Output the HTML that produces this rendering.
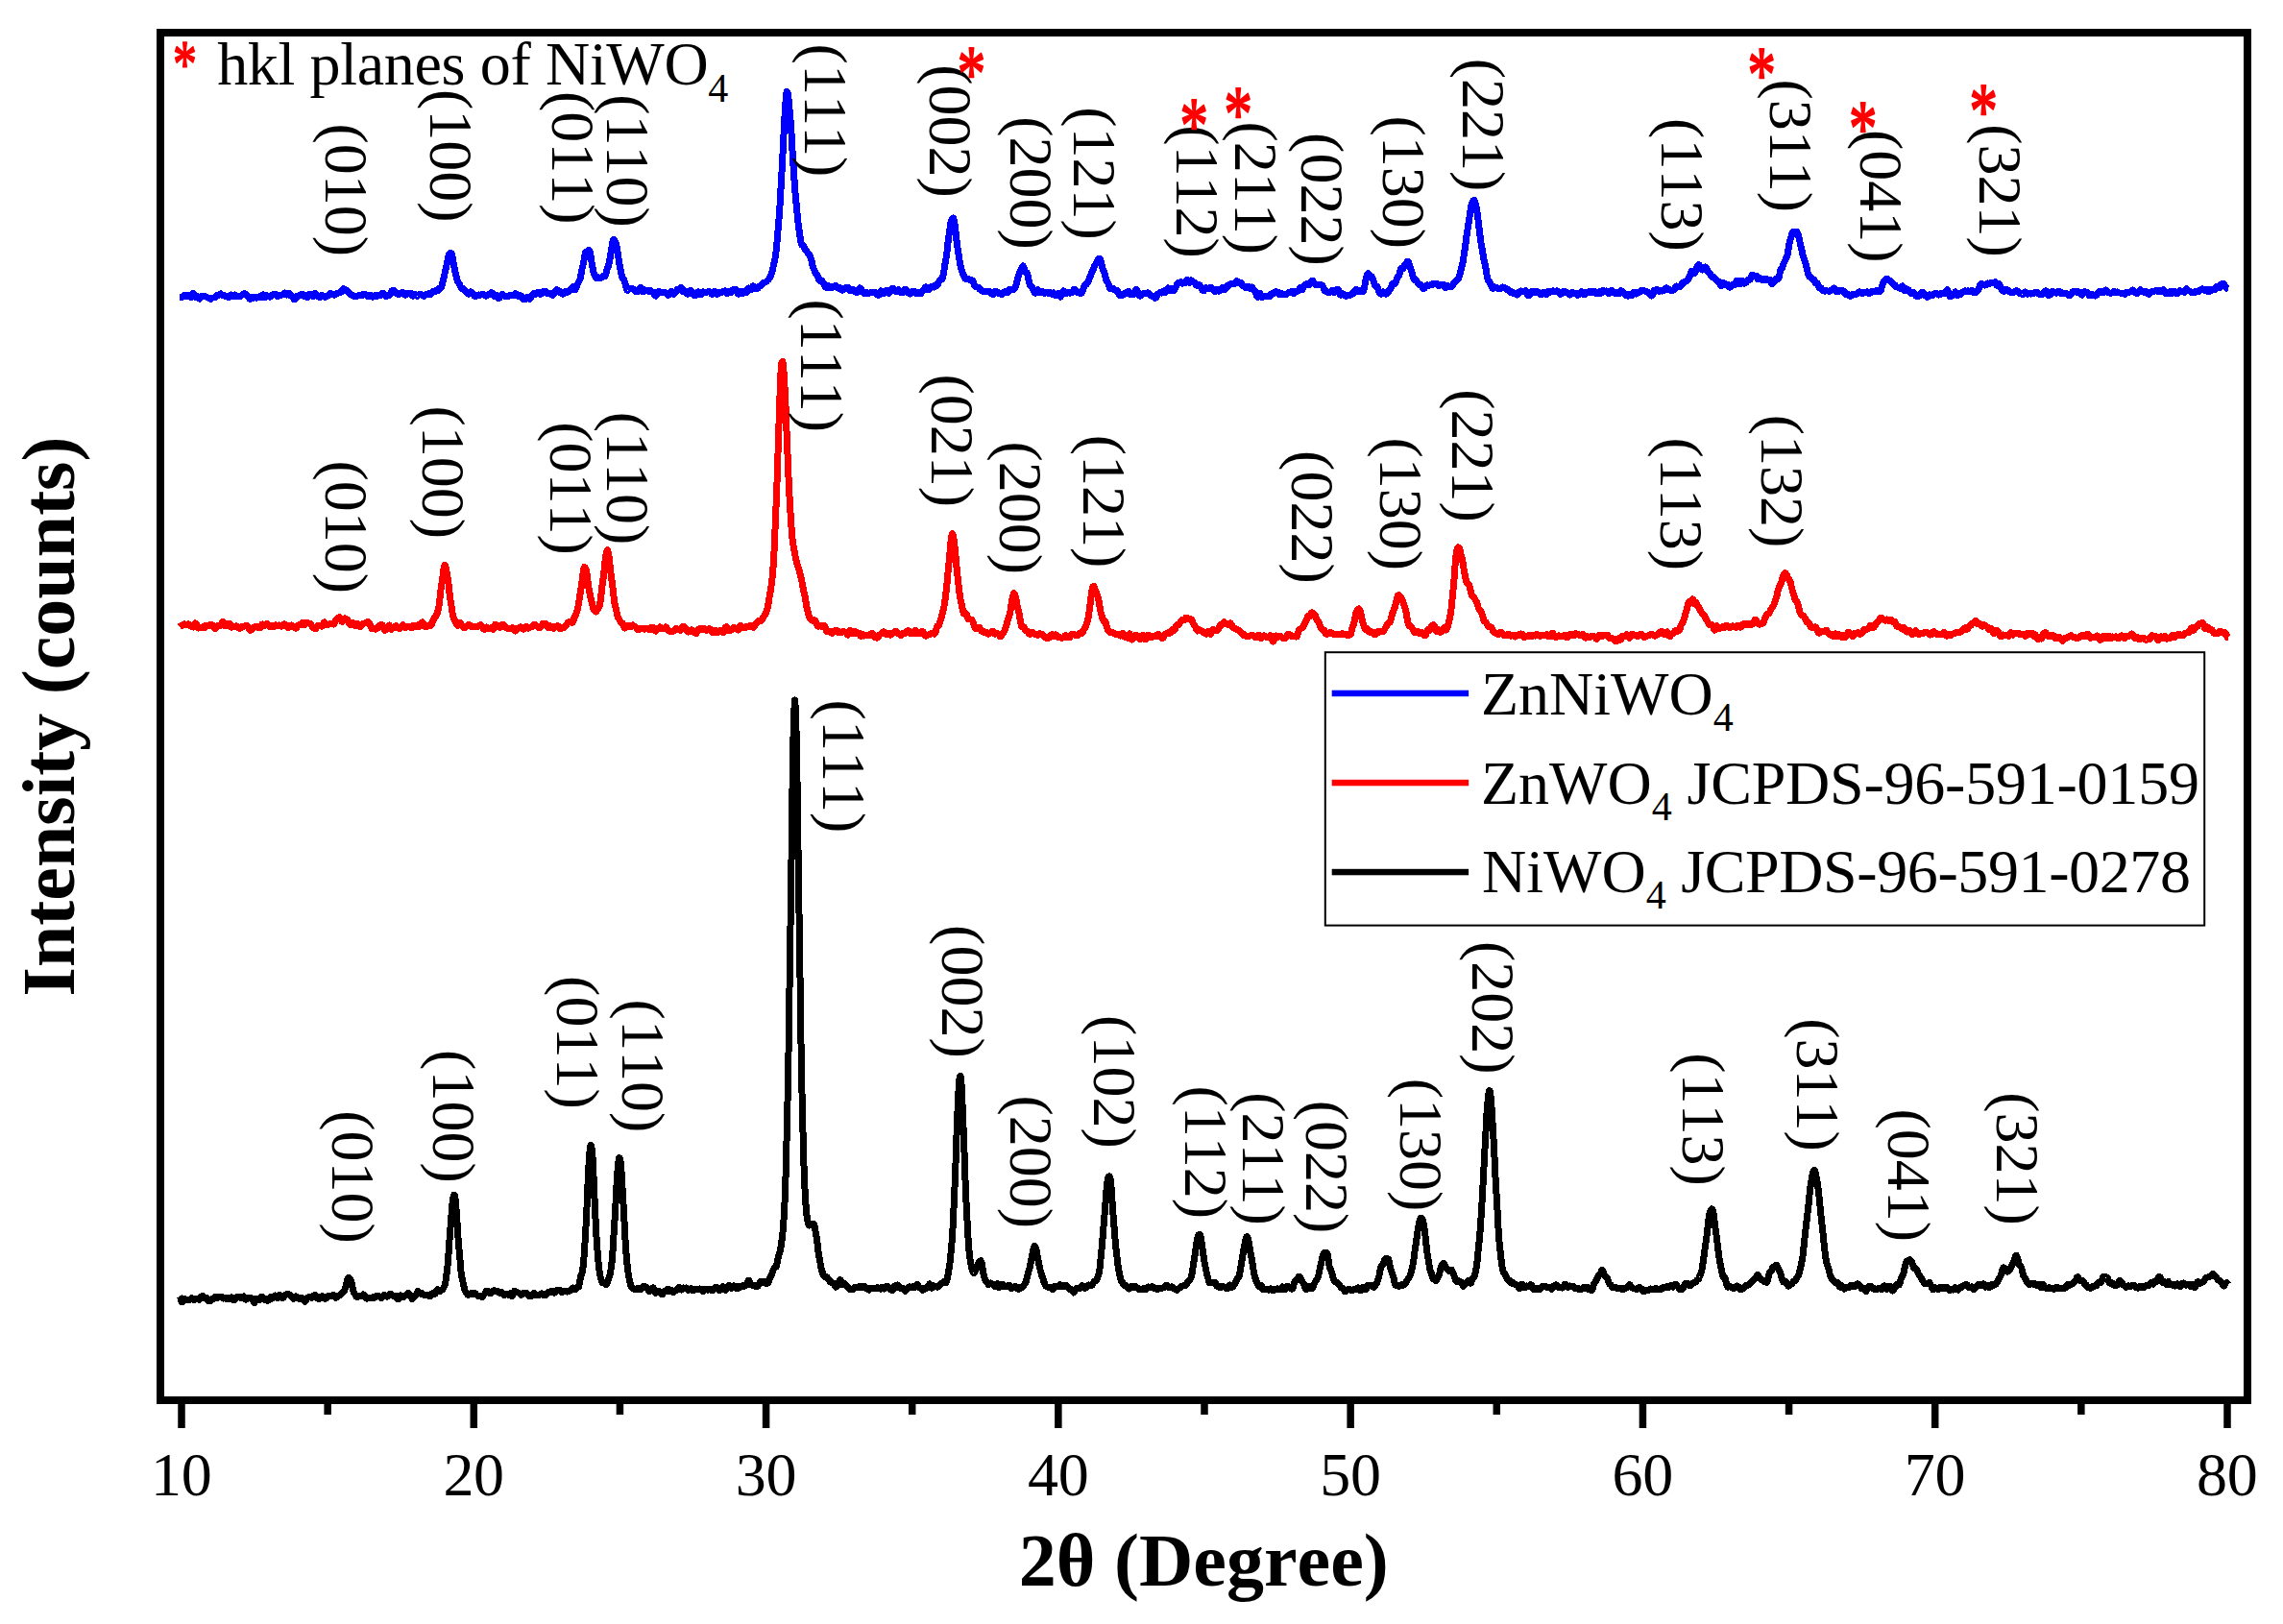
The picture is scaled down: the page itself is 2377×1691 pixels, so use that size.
<!DOCTYPE html>
<html><head><meta charset="utf-8"><title>XRD</title>
<style>
html,body{margin:0;padding:0;background:#fff}
svg{display:block}
svg text{font-family:"Liberation Serif","Times New Roman",serif;font-size:64px;fill:#000;font-kerning:none;font-feature-settings:"kern" 0,"liga" 0}
.b{font-weight:bold;font-size:78px;letter-spacing:0px}
.sub{font-size:42px}
svg text.ast{fill:#ff0000}
</style></head><body>
<svg width="2377" height="1691" viewBox="0 0 2377 1691">
<rect width="2377" height="1691" fill="#fff"/>
<g id="curves" shape-rendering="crispEdges">
<polyline fill="none" stroke="#0000ff" stroke-width="7" stroke-linejoin="round" stroke-linecap="butt" points="187.0,309.3 187.8,309.3 188.5,309.4 189.2,309.3 190.0,309.0 190.8,308.5 191.5,307.9 192.2,307.5 193.0,307.9 193.8,308.2 194.5,308.0 195.2,307.5 196.0,307.2 196.8,307.5 197.5,308.3 198.2,309.4 199.0,309.8 199.8,308.4 200.5,306.3 201.2,305.5 202.0,306.6 202.8,307.9 203.5,308.8 204.2,309.6 205.0,309.4 205.8,308.8 206.5,309.2 207.2,310.5 208.0,311.0 208.8,309.9 209.5,308.6 210.2,308.2 211.0,308.7 211.8,308.9 212.5,308.7 213.2,308.5 214.0,308.8 214.8,309.1 215.5,309.5 216.2,309.9 217.0,310.1 217.8,310.4 218.5,311.1 219.2,311.4 220.0,310.9 220.8,310.2 221.5,310.0 222.2,310.0 223.0,309.7 223.8,309.5 224.5,309.1 225.2,308.3 226.0,307.5 226.8,307.2 227.5,307.4 228.2,307.0 229.0,306.1 229.8,305.9 230.5,306.4 231.2,307.4 232.0,307.8 232.8,307.5 233.5,307.5 234.2,308.2 235.0,308.8 235.8,308.7 236.5,308.5 237.2,309.0 238.0,309.6 238.8,309.1 239.5,307.8 240.2,307.0 241.0,307.3 241.8,308.4 242.5,308.8 243.2,308.0 244.0,307.0 244.8,307.3 245.5,308.5 246.2,309.0 247.0,308.5 247.8,308.3 248.5,308.6 249.2,309.0 250.0,308.7 250.8,308.0 251.5,307.5 252.2,307.1 253.0,306.4 253.8,305.9 254.5,305.8 255.2,306.2 256.0,306.6 256.8,307.2 257.5,308.2 258.2,309.1 259.0,310.0 259.8,310.9 260.5,311.2 261.2,310.3 262.0,309.2 262.8,309.4 263.5,310.2 264.2,310.2 265.0,309.6 265.8,309.4 266.5,309.9 267.2,310.2 268.0,309.9 268.8,309.4 269.5,309.0 270.2,308.9 271.0,309.4 271.8,309.9 272.5,309.1 273.2,307.2 274.0,306.9 274.8,308.7 275.5,309.8 276.2,308.9 277.0,307.9 277.8,307.8 278.5,308.1 279.2,308.3 280.0,308.7 280.8,309.1 281.5,309.1 282.2,308.6 283.0,307.9 283.8,307.1 284.5,306.7 285.2,306.6 286.0,306.3 286.8,306.3 287.5,307.1 288.2,308.2 289.0,308.6 289.8,308.3 290.5,307.8 291.2,307.5 292.0,307.4 292.8,307.4 293.5,307.1 294.2,306.8 295.0,306.4 295.8,305.8 296.5,305.0 297.2,305.2 298.0,306.4 298.8,307.0 299.5,306.4 300.2,305.3 301.0,305.4 301.8,306.6 302.5,307.7 303.2,308.0 304.0,308.1 304.8,309.0 305.5,310.4 306.2,311.5 307.0,311.4 307.8,310.3 308.5,308.9 309.2,308.4 310.0,308.5 310.8,308.4 311.5,307.9 312.2,307.1 313.0,306.7 313.8,306.4 314.5,306.2 315.2,306.5 316.0,307.6 316.8,308.6 317.5,308.3 318.2,307.9 319.0,308.7 319.8,309.6 320.5,309.0 321.2,307.3 322.0,306.2 322.8,306.1 323.5,306.4 324.2,307.0 325.0,308.3 325.8,308.8 326.5,307.7 327.2,306.1 328.0,305.6 328.8,306.6 329.5,307.9 330.2,308.2 331.0,308.0 331.8,308.5 332.5,309.5 333.2,309.6 334.0,308.6 334.8,307.7 335.5,307.5 336.2,307.9 337.0,308.7 337.8,309.2 338.5,309.2 339.2,308.9 340.0,308.6 340.8,308.3 341.5,307.6 342.2,306.9 343.0,306.2 343.8,305.7 344.5,305.5 345.2,305.8 346.0,306.1 346.8,306.4 347.5,306.9 348.2,307.1 349.0,306.9 349.8,306.4 350.5,305.8 351.2,305.5 352.0,305.3 352.8,305.0 353.5,304.5 354.2,304.2 355.0,304.2 355.8,303.4 356.5,301.8 357.2,300.8 358.0,300.9 358.8,301.4 359.5,301.7 360.2,301.9 361.0,302.3 361.8,302.8 362.5,303.8 363.2,304.7 364.0,305.4 364.8,306.3 365.5,307.0 366.2,307.1 367.0,307.1 367.8,307.6 368.5,308.4 369.2,308.6 370.0,308.5 370.8,308.4 371.5,308.3 372.2,308.2 373.0,307.8 373.8,307.3 374.5,307.1 375.2,307.4 376.0,307.7 376.8,307.5 377.5,307.1 378.2,306.5 379.0,306.0 379.8,306.0 380.5,306.5 381.2,307.2 382.0,308.0 382.8,308.8 383.5,308.8 384.2,308.2 385.0,307.5 385.8,307.5 386.5,308.5 387.2,309.1 388.0,309.1 388.8,308.6 389.5,308.0 390.2,307.6 391.0,307.4 391.8,308.0 392.5,308.5 393.2,308.2 394.0,307.6 394.8,307.3 395.5,307.3 396.2,307.3 397.0,306.8 397.8,305.9 398.5,305.1 399.2,305.4 400.0,306.5 400.8,307.6 401.5,308.2 402.2,308.3 403.0,307.8 403.8,307.1 404.5,307.0 405.2,307.4 406.0,307.0 406.8,305.5 407.5,303.6 408.2,302.6 409.0,302.2 409.8,302.1 410.5,302.8 411.2,303.9 412.0,304.8 412.8,305.4 413.5,305.7 414.2,306.2 415.0,306.6 415.8,306.4 416.5,305.6 417.2,305.0 418.0,304.9 418.8,304.9 419.5,304.8 420.2,305.0 421.0,306.1 421.8,307.1 422.5,307.2 423.2,306.4 424.0,305.8 424.8,305.7 425.5,305.5 426.2,305.1 427.0,305.0 427.8,305.5 428.5,306.7 429.2,307.8 430.0,308.3 430.8,307.8 431.5,306.8 432.2,306.6 433.0,307.0 433.8,308.0 434.5,308.5 435.2,307.8 436.0,306.8 436.8,306.4 437.5,306.8 438.2,307.0 439.0,306.8 439.8,307.2 440.5,308.0 441.2,308.3 442.0,307.6 442.8,306.9 443.5,307.0 444.2,307.0 445.0,306.4 445.8,305.9 446.5,306.3 447.2,306.9 448.0,306.7 448.8,305.8 449.5,304.7 450.2,303.9 451.0,303.5 451.8,303.7 452.5,303.8 453.2,303.3 454.0,302.3 454.8,301.9 455.5,302.3 456.2,302.4 457.0,301.3 457.8,300.1 458.5,299.8 459.2,299.7 460.0,297.7 460.8,294.6 461.5,291.8 462.2,288.8 463.0,285.2 463.8,281.6 464.5,278.6 465.2,275.1 466.0,271.0 466.8,267.4 467.5,265.1 468.2,263.9 469.0,263.3 469.8,263.6 470.5,265.2 471.2,268.5 472.0,273.1 472.8,277.6 473.5,281.2 474.2,284.4 475.0,287.7 475.8,290.7 476.5,292.8 477.2,294.1 478.0,295.3 478.8,296.9 479.5,298.6 480.2,300.2 481.0,300.9 481.8,300.9 482.5,300.8 483.2,301.4 484.0,302.7 484.8,303.5 485.5,303.7 486.2,304.2 487.0,305.3 487.8,306.0 488.5,305.2 489.2,304.1 490.0,303.8 490.8,304.4 491.5,305.2 492.2,305.6 493.0,306.7 493.8,308.0 494.5,308.5 495.2,308.4 496.0,308.1 496.8,307.8 497.5,307.4 498.2,307.0 499.0,307.1 499.8,307.1 500.5,307.1 501.2,306.9 502.0,306.5 502.8,306.4 503.5,306.6 504.2,307.3 505.0,307.8 505.8,308.1 506.5,308.0 507.2,307.6 508.0,306.9 508.8,306.8 509.5,306.9 510.2,306.4 511.0,305.3 511.8,304.7 512.5,305.1 513.2,306.5 514.0,308.0 514.8,308.9 515.5,308.6 516.2,307.6 517.0,307.1 517.8,308.1 518.5,309.8 519.2,310.8 520.0,310.3 520.8,308.9 521.5,307.6 522.2,306.9 523.0,306.5 523.8,306.9 524.5,307.8 525.2,308.4 526.0,308.7 526.8,308.8 527.5,308.9 528.2,308.9 529.0,308.6 529.8,308.1 530.5,307.6 531.2,307.2 532.0,307.1 532.8,307.1 533.5,307.2 534.2,307.3 535.0,307.1 535.8,306.4 536.5,305.8 537.2,306.0 538.0,307.0 538.8,308.0 539.5,308.4 540.2,308.4 541.0,308.0 541.8,307.7 542.5,308.1 543.2,309.1 544.0,310.4 544.8,311.5 545.5,311.8 546.2,311.9 547.0,311.8 547.8,311.4 548.5,310.4 549.2,309.2 550.0,309.3 550.8,310.4 551.5,311.2 552.2,310.7 553.0,309.5 553.8,308.2 554.5,306.8 555.2,305.9 556.0,305.5 556.8,305.8 557.5,306.3 558.2,306.1 559.0,305.2 559.8,304.3 560.5,304.7 561.2,305.6 562.0,306.2 562.8,306.3 563.5,306.0 564.2,304.8 565.0,303.9 565.8,304.1 566.5,304.2 567.2,303.7 568.0,303.3 568.8,304.1 569.5,305.3 570.2,305.6 571.0,305.1 571.8,305.1 572.5,305.1 573.2,305.1 574.0,305.7 574.8,306.9 575.5,307.3 576.2,306.7 577.0,305.8 577.8,304.9 578.5,303.2 579.2,301.7 580.0,301.7 580.8,302.8 581.5,304.0 582.2,304.3 583.0,303.9 583.8,303.8 584.5,304.8 585.2,306.1 586.0,306.2 586.8,305.4 587.5,304.4 588.2,303.6 589.0,303.2 589.8,303.3 590.5,304.0 591.2,304.1 592.0,303.3 592.8,302.6 593.5,302.4 594.2,302.0 595.0,300.9 595.8,299.5 596.5,298.9 597.2,299.5 598.0,300.8 598.8,301.5 599.5,300.6 600.2,298.7 601.0,296.7 601.8,294.9 602.5,293.4 603.2,292.2 604.0,290.2 604.8,286.8 605.5,282.6 606.2,279.0 607.0,276.2 607.8,272.6 608.5,268.0 609.2,264.0 610.0,262.2 610.8,262.0 611.5,261.7 612.2,260.9 613.0,260.4 613.8,261.0 614.5,263.4 615.2,267.9 616.0,273.1 616.8,277.7 617.5,281.3 618.2,284.1 619.0,286.2 619.8,287.9 620.5,289.3 621.2,289.8 622.0,289.3 622.8,288.9 623.5,289.1 624.2,289.3 625.0,289.3 625.8,289.2 626.5,289.1 627.2,288.3 628.0,287.4 628.8,287.4 629.5,287.8 630.2,287.1 631.0,284.5 631.8,281.2 632.5,278.9 633.2,277.5 634.0,274.9 634.8,271.0 635.5,266.6 636.2,262.1 637.0,257.1 637.8,252.2 638.5,249.5 639.2,249.4 640.0,250.5 640.8,251.8 641.5,253.7 642.2,257.6 643.0,262.7 643.8,267.7 644.5,272.3 645.2,276.4 646.0,280.4 646.8,284.4 647.5,287.5 648.2,289.4 649.0,290.3 649.8,291.5 650.5,293.5 651.2,296.2 652.0,299.5 652.8,302.0 653.5,302.5 654.2,301.8 655.0,301.1 655.8,300.7 656.5,300.3 657.2,300.4 658.0,300.8 658.8,300.9 659.5,300.9 660.2,301.7 661.0,302.7 661.8,303.3 662.5,303.6 663.2,303.8 664.0,303.9 664.8,303.2 665.5,301.8 666.2,300.1 667.0,299.3 667.8,300.2 668.5,302.1 669.2,303.6 670.0,303.6 670.8,302.6 671.5,301.9 672.2,302.1 673.0,302.3 673.8,302.2 674.5,302.6 675.2,303.3 676.0,303.7 676.8,303.2 677.5,302.7 678.2,303.2 679.0,303.8 679.8,303.9 680.5,304.6 681.2,306.1 682.0,307.8 682.8,308.1 683.5,306.8 684.2,305.0 685.0,303.9 685.8,303.5 686.5,303.6 687.2,303.8 688.0,304.2 688.8,304.8 689.5,304.8 690.2,304.7 691.0,304.6 691.8,304.6 692.5,304.6 693.2,304.8 694.0,305.7 694.8,306.8 695.5,307.6 696.2,307.2 697.0,306.3 697.8,305.5 698.5,304.3 699.2,303.5 700.0,303.8 700.8,305.3 701.5,306.2 702.2,305.8 703.0,304.9 703.8,303.8 704.5,302.4 705.2,301.2 706.0,301.0 706.8,301.7 707.5,301.8 708.2,300.5 709.0,299.4 709.8,300.1 710.5,302.2 711.2,303.7 712.0,303.3 712.8,302.6 713.5,303.0 714.2,304.2 715.0,305.5 715.8,306.2 716.5,305.9 717.2,304.7 718.0,303.1 718.8,302.4 719.5,302.7 720.2,303.5 721.0,304.8 721.8,306.3 722.5,307.5 723.2,307.9 724.0,307.5 724.8,306.4 725.5,305.2 726.2,304.2 727.0,303.9 727.8,304.7 728.5,306.0 729.2,306.9 730.0,306.7 730.8,305.8 731.5,304.7 732.2,303.9 733.0,304.1 733.8,304.7 734.5,305.0 735.2,304.7 736.0,304.1 736.8,303.8 737.5,303.7 738.2,303.7 739.0,303.7 739.8,304.3 740.5,305.5 741.2,306.4 742.0,306.1 742.8,304.8 743.5,303.5 744.2,303.1 745.0,304.0 745.8,305.6 746.5,306.5 747.2,306.1 748.0,305.2 748.8,304.7 749.5,304.3 750.2,304.2 751.0,304.2 751.8,304.2 752.5,303.9 753.2,303.4 754.0,303.0 754.8,302.8 755.5,303.2 756.2,304.3 757.0,305.4 757.8,304.9 758.5,303.6 759.2,303.4 760.0,304.3 760.8,304.7 761.5,303.5 762.2,302.3 763.0,301.8 763.8,301.6 764.5,301.2 765.2,301.1 766.0,301.2 766.8,302.2 767.5,304.0 768.2,305.6 769.0,306.1 769.8,305.3 770.5,304.1 771.2,303.2 772.0,303.5 772.8,304.6 773.5,305.3 774.2,304.6 775.0,303.4 775.8,302.8 776.5,303.6 777.2,304.6 778.0,304.0 778.8,301.8 779.5,300.0 780.2,300.2 781.0,301.3 781.8,301.7 782.5,300.7 783.2,298.9 784.0,297.9 784.8,298.5 785.5,300.1 786.2,300.8 787.0,300.1 787.8,299.8 788.5,300.2 789.2,300.0 790.0,298.9 790.8,297.8 791.5,297.6 792.2,297.5 793.0,296.9 793.8,295.9 794.5,295.1 795.2,294.4 796.0,294.0 796.8,293.8 797.5,293.6 798.2,292.9 799.0,292.0 799.8,291.3 800.5,290.5 801.2,289.3 802.0,287.8 802.8,286.3 803.5,284.4 804.2,281.5 805.0,278.0 805.8,274.8 806.5,272.0 807.2,268.0 808.0,261.9 808.8,254.3 809.5,246.3 810.2,238.0 811.0,228.3 811.8,217.5 812.5,205.8 813.2,193.1 814.0,179.5 814.8,165.0 815.5,150.6 816.2,136.0 817.0,121.6 817.8,108.7 818.5,99.2 819.2,95.2 820.0,96.5 820.8,101.4 821.5,108.2 822.2,115.9 823.0,124.7 823.8,135.3 824.5,147.5 825.2,160.1 826.0,172.3 826.8,184.2 827.5,194.7 828.2,203.5 829.0,211.4 829.8,219.6 830.5,227.4 831.2,233.9 832.0,239.6 832.8,245.1 833.5,250.1 834.2,253.7 835.0,255.3 835.8,255.5 836.5,255.9 837.2,257.4 838.0,259.2 838.8,260.4 839.5,261.0 840.2,261.9 841.0,263.2 841.8,264.1 842.5,264.8 843.2,266.0 844.0,268.0 844.8,270.7 845.5,273.8 846.2,277.2 847.0,279.6 847.8,281.1 848.5,282.9 849.2,284.9 850.0,286.1 850.8,286.4 851.5,287.5 852.2,289.8 853.0,291.9 853.8,292.4 854.5,291.8 855.2,291.9 856.0,292.7 856.8,293.9 857.5,295.1 858.2,296.4 859.0,298.2 859.8,299.3 860.5,299.3 861.2,298.4 862.0,297.6 862.8,298.1 863.5,298.9 864.2,299.5 865.0,300.0 865.8,299.7 866.5,298.9 867.2,298.2 868.0,298.1 868.8,298.2 869.5,297.8 870.2,297.6 871.0,298.4 871.8,299.5 872.5,300.1 873.2,300.2 874.0,299.7 874.8,299.8 875.5,300.5 876.2,301.6 877.0,302.3 877.8,301.9 878.5,300.9 879.2,300.1 880.0,299.9 880.8,300.1 881.5,300.1 882.2,299.7 883.0,299.6 883.8,300.3 884.5,301.7 885.2,302.6 886.0,302.5 886.8,302.1 887.5,302.0 888.2,301.9 889.0,301.9 889.8,302.5 890.5,303.7 891.2,304.4 892.0,304.6 892.8,304.4 893.5,303.4 894.2,301.3 895.0,299.9 895.8,300.0 896.5,301.2 897.2,302.6 898.0,303.6 898.8,304.7 899.5,305.4 900.2,305.6 901.0,305.5 901.8,305.1 902.5,304.8 903.2,304.8 904.0,305.0 904.8,305.3 905.5,305.1 906.2,304.7 907.0,304.4 907.8,304.5 908.5,304.5 909.2,304.6 910.0,304.8 910.8,304.6 911.5,304.4 912.2,304.9 913.0,306.1 913.8,307.0 914.5,307.2 915.2,307.0 916.0,306.0 916.8,304.3 917.5,302.9 918.2,303.2 919.0,304.4 919.8,305.4 920.5,305.6 921.2,304.8 922.0,303.2 922.8,302.3 923.5,303.2 924.2,304.8 925.0,305.3 925.8,304.3 926.5,303.1 927.2,302.4 928.0,301.7 928.8,300.8 929.5,300.3 930.2,300.9 931.0,302.0 931.8,303.0 932.5,303.6 933.2,304.0 934.0,303.7 934.8,302.4 935.5,301.7 936.2,302.6 937.0,303.8 937.8,304.5 938.5,304.5 939.2,304.7 940.0,304.7 940.8,303.8 941.5,302.4 942.2,301.3 943.0,301.2 943.8,302.3 944.5,303.7 945.2,304.6 946.0,305.0 946.8,305.7 947.5,306.1 948.2,305.6 949.0,304.5 949.8,303.6 950.5,303.1 951.2,303.0 952.0,303.8 952.8,304.9 953.5,305.5 954.2,304.9 955.0,304.5 955.8,304.8 956.5,305.5 957.2,305.8 958.0,305.8 958.8,305.6 959.5,304.7 960.2,303.2 961.0,302.1 961.8,301.5 962.5,300.7 963.2,299.5 964.0,298.8 964.8,299.2 965.5,300.6 966.2,301.7 967.0,301.7 967.8,301.2 968.5,300.5 969.2,299.6 970.0,298.5 970.8,298.1 971.5,298.7 972.2,299.0 973.0,298.2 973.8,297.1 974.5,296.8 975.2,297.3 976.0,296.8 976.8,295.2 977.5,293.5 978.2,292.1 979.0,291.2 979.8,291.1 980.5,291.1 981.2,289.8 982.0,286.6 982.8,282.2 983.5,277.8 984.2,273.7 985.0,269.4 985.8,263.9 986.5,257.2 987.2,250.8 988.0,245.2 988.8,239.7 989.5,234.5 990.2,230.8 991.0,228.8 991.8,227.5 992.5,227.1 993.2,228.7 994.0,233.1 994.8,239.3 995.5,246.0 996.2,252.4 997.0,257.8 997.8,262.9 998.5,267.8 999.2,272.5 1000.0,276.3 1000.8,279.4 1001.5,282.3 1002.2,284.5 1003.0,286.1 1003.8,287.5 1004.5,289.2 1005.2,290.4 1006.0,290.7 1006.8,290.4 1007.5,290.3 1008.2,290.6 1009.0,291.1 1009.8,291.4 1010.5,291.5 1011.2,291.8 1012.0,291.9 1012.8,292.3 1013.5,293.7 1014.2,296.0 1015.0,298.0 1015.8,298.7 1016.5,298.9 1017.2,298.9 1018.0,299.0 1018.8,299.3 1019.5,300.2 1020.2,301.4 1021.0,302.0 1021.8,302.3 1022.5,302.9 1023.2,303.4 1024.0,303.4 1024.8,303.0 1025.5,303.1 1026.2,303.6 1027.0,304.0 1027.8,303.9 1028.5,303.4 1029.2,303.1 1030.0,303.4 1030.8,304.3 1031.5,305.4 1032.2,306.0 1033.0,306.3 1033.8,306.5 1034.5,305.8 1035.2,304.4 1036.0,303.4 1036.8,303.3 1037.5,303.6 1038.2,304.0 1039.0,304.7 1039.8,305.4 1040.5,305.4 1041.2,305.2 1042.0,305.6 1042.8,306.3 1043.5,306.3 1044.2,305.7 1045.0,304.9 1045.8,303.9 1046.5,303.4 1047.2,303.9 1048.0,304.7 1048.8,305.0 1049.5,304.2 1050.2,303.2 1051.0,301.9 1051.8,301.1 1052.5,301.3 1053.2,301.5 1054.0,301.3 1054.8,301.2 1055.5,301.3 1056.2,300.6 1057.0,299.1 1057.8,297.2 1058.5,294.6 1059.2,291.5 1060.0,288.6 1060.8,286.1 1061.5,283.9 1062.2,282.1 1063.0,280.9 1063.8,279.4 1064.5,277.6 1065.2,277.0 1066.0,278.6 1066.8,281.1 1067.5,282.8 1068.2,283.5 1069.0,283.9 1069.8,285.6 1070.5,288.6 1071.2,292.5 1072.0,295.8 1072.8,297.3 1073.5,297.8 1074.2,298.5 1075.0,299.9 1075.8,301.3 1076.5,302.9 1077.2,304.4 1078.0,305.1 1078.8,304.1 1079.5,302.3 1080.2,301.8 1081.0,303.0 1081.8,304.4 1082.5,304.7 1083.2,304.3 1084.0,303.7 1084.8,303.5 1085.5,303.8 1086.2,304.6 1087.0,305.1 1087.8,305.2 1088.5,305.0 1089.2,304.7 1090.0,304.7 1090.8,305.2 1091.5,305.6 1092.2,305.1 1093.0,304.5 1093.8,305.0 1094.5,306.2 1095.2,306.3 1096.0,305.4 1096.8,304.9 1097.5,305.4 1098.2,306.5 1099.0,307.4 1099.8,307.6 1100.5,306.8 1101.2,305.8 1102.0,305.6 1102.8,306.7 1103.5,308.3 1104.2,309.0 1105.0,307.9 1105.8,305.8 1106.5,303.8 1107.2,302.9 1108.0,303.4 1108.8,304.5 1109.5,305.5 1110.2,305.7 1111.0,305.2 1111.8,304.6 1112.5,304.4 1113.2,304.9 1114.0,305.3 1114.8,304.9 1115.5,304.5 1116.2,304.3 1117.0,303.6 1117.8,302.2 1118.5,301.3 1119.2,301.6 1120.0,302.5 1120.8,303.6 1121.5,304.3 1122.2,304.3 1123.0,304.3 1123.8,304.6 1124.5,305.2 1125.2,305.6 1126.0,305.2 1126.8,304.1 1127.5,302.2 1128.2,299.6 1129.0,297.6 1129.8,296.7 1130.5,296.4 1131.2,295.9 1132.0,294.7 1132.8,293.1 1133.5,291.7 1134.2,290.1 1135.0,288.1 1135.8,285.9 1136.5,284.3 1137.2,283.1 1138.0,281.1 1138.8,278.8 1139.5,277.0 1140.2,275.9 1141.0,274.8 1141.8,273.3 1142.5,271.6 1143.2,270.1 1144.0,269.4 1144.8,269.4 1145.5,270.0 1146.2,271.8 1147.0,275.4 1147.8,279.0 1148.5,281.2 1149.2,282.6 1150.0,284.6 1150.8,287.7 1151.5,291.1 1152.2,293.2 1153.0,293.8 1153.8,294.8 1154.5,297.1 1155.2,299.7 1156.0,300.8 1156.8,300.5 1157.5,300.0 1158.2,300.1 1159.0,300.8 1159.8,301.3 1160.5,301.8 1161.2,302.2 1162.0,302.4 1162.8,302.3 1163.5,302.4 1164.2,303.8 1165.0,305.9 1165.8,307.5 1166.5,307.6 1167.2,306.7 1168.0,306.6 1168.8,307.1 1169.5,307.2 1170.2,306.3 1171.0,305.5 1171.8,305.5 1172.5,305.7 1173.2,305.1 1174.0,303.8 1174.8,303.3 1175.5,304.5 1176.2,306.1 1177.0,306.8 1177.8,306.9 1178.5,307.0 1179.2,307.0 1180.0,306.6 1180.8,305.2 1181.5,303.5 1182.2,302.1 1183.0,301.3 1183.8,301.8 1184.5,303.7 1185.2,306.2 1186.0,307.7 1186.8,308.1 1187.5,307.7 1188.2,307.0 1189.0,306.1 1189.8,305.8 1190.5,305.7 1191.2,305.4 1192.0,305.2 1192.8,305.5 1193.5,305.8 1194.2,305.4 1195.0,304.9 1195.8,305.3 1196.5,306.3 1197.2,307.1 1198.0,307.7 1198.8,308.2 1199.5,308.4 1200.2,308.3 1201.0,308.5 1201.8,309.4 1202.5,310.3 1203.2,310.3 1204.0,308.9 1204.8,307.0 1205.5,306.0 1206.2,305.8 1207.0,305.1 1207.8,304.1 1208.5,304.3 1209.2,305.0 1210.0,304.6 1210.8,303.5 1211.5,303.0 1212.2,303.8 1213.0,304.6 1213.8,304.2 1214.5,302.9 1215.2,300.9 1216.0,300.0 1216.8,300.7 1217.5,301.9 1218.2,302.3 1219.0,301.6 1219.8,300.8 1220.5,301.1 1221.2,302.2 1222.0,302.8 1222.8,302.0 1223.5,300.7 1224.2,299.2 1225.0,297.5 1225.8,295.6 1226.5,294.7 1227.2,294.9 1228.0,294.7 1228.8,293.9 1229.5,293.8 1230.2,294.6 1231.0,295.3 1231.8,294.9 1232.5,294.6 1233.2,294.8 1234.0,294.4 1234.8,293.2 1235.5,291.9 1236.2,291.3 1237.0,292.0 1237.8,293.6 1238.5,294.1 1239.2,293.0 1240.0,291.9 1240.8,292.1 1241.5,292.8 1242.2,293.2 1243.0,293.8 1243.8,294.6 1244.5,295.3 1245.2,296.3 1246.0,297.1 1246.8,297.2 1247.5,296.6 1248.2,296.2 1249.0,296.8 1249.8,298.2 1250.5,299.6 1251.2,300.8 1252.0,302.1 1252.8,302.9 1253.5,302.7 1254.2,301.5 1255.0,300.3 1255.8,299.7 1256.5,299.9 1257.2,300.5 1258.0,300.8 1258.8,300.5 1259.5,299.6 1260.2,299.1 1261.0,299.7 1261.8,300.6 1262.5,301.0 1263.2,301.5 1264.0,302.7 1264.8,303.8 1265.5,303.5 1266.2,302.1 1267.0,301.2 1267.8,301.7 1268.5,302.9 1269.2,303.1 1270.0,301.8 1270.8,300.8 1271.5,300.5 1272.2,299.9 1273.0,299.5 1273.8,300.4 1274.5,301.8 1275.2,301.9 1276.0,300.8 1276.8,299.9 1277.5,298.8 1278.2,297.6 1279.0,296.9 1279.8,296.9 1280.5,296.5 1281.2,295.6 1282.0,295.3 1282.8,295.7 1283.5,296.0 1284.2,295.9 1285.0,295.6 1285.8,295.0 1286.5,293.8 1287.2,292.7 1288.0,292.7 1288.8,293.4 1289.5,294.2 1290.2,294.6 1291.0,294.3 1291.8,294.2 1292.5,295.2 1293.2,296.8 1294.0,297.6 1294.8,297.7 1295.5,297.9 1296.2,298.9 1297.0,299.7 1297.8,299.7 1298.5,299.1 1299.2,298.3 1300.0,298.6 1300.8,299.8 1301.5,300.5 1302.2,300.0 1303.0,299.0 1303.8,299.3 1304.5,300.5 1305.2,301.5 1306.0,302.3 1306.8,303.3 1307.5,304.9 1308.2,307.0 1309.0,308.9 1309.8,309.3 1310.5,307.6 1311.2,305.7 1312.0,305.6 1312.8,307.4 1313.5,309.1 1314.2,309.5 1315.0,308.9 1315.8,308.5 1316.5,308.3 1317.2,308.2 1318.0,308.2 1318.8,308.4 1319.5,308.5 1320.2,308.7 1321.0,308.9 1321.8,308.8 1322.5,307.8 1323.2,306.5 1324.0,305.7 1324.8,305.5 1325.5,305.6 1326.2,305.5 1327.0,304.8 1327.8,303.9 1328.5,303.5 1329.2,303.8 1330.0,304.1 1330.8,304.4 1331.5,305.4 1332.2,306.6 1333.0,306.9 1333.8,306.1 1334.5,305.8 1335.2,306.3 1336.0,306.7 1336.8,306.8 1337.5,306.8 1338.2,306.9 1339.0,306.8 1339.8,306.1 1340.5,305.5 1341.2,304.9 1342.0,304.5 1342.8,304.4 1343.5,304.1 1344.2,303.6 1345.0,303.6 1345.8,304.3 1346.5,305.3 1347.2,305.4 1348.0,304.3 1348.8,303.5 1349.5,303.3 1350.2,303.3 1351.0,303.1 1351.8,302.9 1352.5,302.1 1353.2,300.4 1354.0,299.6 1354.8,300.8 1355.5,301.8 1356.2,300.9 1357.0,298.8 1357.8,297.4 1358.5,297.2 1359.2,296.7 1360.0,295.7 1360.8,295.5 1361.5,296.2 1362.2,296.8 1363.0,296.5 1363.8,295.6 1364.5,294.6 1365.2,293.2 1366.0,292.1 1366.8,292.4 1367.5,293.7 1368.2,294.9 1369.0,295.7 1369.8,296.4 1370.5,296.8 1371.2,296.3 1372.0,296.0 1372.8,296.4 1373.5,296.8 1374.2,296.8 1375.0,296.6 1375.8,297.0 1376.5,297.1 1377.2,297.7 1378.0,299.8 1378.8,302.2 1379.5,303.1 1380.2,302.9 1381.0,303.0 1381.8,303.9 1382.5,304.5 1383.2,304.4 1384.0,304.3 1384.8,304.2 1385.5,303.7 1386.2,302.9 1387.0,302.6 1387.8,303.4 1388.5,304.5 1389.2,304.6 1390.0,304.2 1390.8,303.8 1391.5,302.8 1392.2,301.5 1393.0,301.3 1393.8,302.7 1394.5,304.9 1395.2,306.7 1396.0,307.2 1396.8,306.4 1397.5,305.6 1398.2,305.8 1399.0,306.3 1399.8,306.9 1400.5,307.8 1401.2,308.3 1402.0,307.9 1402.8,307.5 1403.5,307.3 1404.2,307.2 1405.0,307.2 1405.8,307.2 1406.5,306.9 1407.2,306.0 1408.0,305.6 1408.8,305.7 1409.5,305.0 1410.2,303.4 1411.0,302.0 1411.8,301.4 1412.5,301.6 1413.2,302.1 1414.0,303.1 1414.8,303.9 1415.5,303.9 1416.2,303.3 1417.0,302.6 1417.8,303.0 1418.5,303.7 1419.2,303.4 1420.0,301.6 1420.8,298.1 1421.5,294.1 1422.2,290.1 1423.0,287.1 1423.8,285.4 1424.5,284.9 1425.2,285.6 1426.0,286.7 1426.8,287.3 1427.5,287.5 1428.2,287.8 1429.0,289.2 1429.8,291.5 1430.5,294.1 1431.2,296.4 1432.0,297.6 1432.8,297.9 1433.5,298.0 1434.2,299.2 1435.0,301.6 1435.8,303.7 1436.5,304.9 1437.2,305.7 1438.0,306.1 1438.8,305.7 1439.5,304.6 1440.2,303.9 1441.0,304.2 1441.8,305.2 1442.5,306.1 1443.2,306.1 1444.0,305.8 1444.8,305.3 1445.5,304.1 1446.2,302.5 1447.0,301.4 1447.8,300.5 1448.5,298.8 1449.2,296.6 1450.0,295.3 1450.8,295.2 1451.5,295.5 1452.2,295.4 1453.0,294.5 1453.8,292.3 1454.5,289.9 1455.2,288.5 1456.0,287.9 1456.8,286.5 1457.5,283.8 1458.2,280.8 1459.0,279.2 1459.8,279.6 1460.5,279.9 1461.2,278.7 1462.0,276.6 1462.8,275.2 1463.5,274.9 1464.2,274.2 1465.0,272.8 1465.8,272.1 1466.5,272.7 1467.2,275.0 1468.0,277.8 1468.8,279.9 1469.5,281.6 1470.2,283.8 1471.0,287.1 1471.8,290.0 1472.5,291.4 1473.2,291.5 1474.0,291.5 1474.8,292.2 1475.5,293.3 1476.2,294.4 1477.0,295.7 1477.8,296.7 1478.5,296.7 1479.2,296.4 1480.0,297.2 1480.8,298.6 1481.5,300.0 1482.2,300.7 1483.0,300.3 1483.8,299.0 1484.5,297.7 1485.2,297.0 1486.0,296.8 1486.8,297.1 1487.5,297.4 1488.2,297.1 1489.0,296.7 1489.8,296.8 1490.5,296.9 1491.2,296.4 1492.0,295.4 1492.8,295.1 1493.5,295.2 1494.2,295.3 1495.0,295.3 1495.8,295.5 1496.5,296.1 1497.2,297.0 1498.0,297.4 1498.8,297.2 1499.5,296.8 1500.2,296.8 1501.0,296.6 1501.8,296.1 1502.5,296.1 1503.2,297.2 1504.0,299.0 1504.8,299.8 1505.5,299.0 1506.2,297.7 1507.0,297.4 1507.8,298.0 1508.5,298.4 1509.2,298.4 1510.0,298.7 1510.8,298.9 1511.5,298.6 1512.2,297.8 1513.0,296.2 1513.8,294.5 1514.5,293.6 1515.2,293.0 1516.0,292.0 1516.8,291.3 1517.5,291.4 1518.2,290.9 1519.0,288.9 1519.8,286.1 1520.5,283.5 1521.2,280.7 1522.0,277.9 1522.8,274.6 1523.5,270.5 1524.2,265.9 1525.0,260.7 1525.8,255.1 1526.5,249.4 1527.2,244.0 1528.0,238.9 1528.8,234.1 1529.5,229.4 1530.2,224.6 1531.0,219.5 1531.8,214.8 1532.5,211.6 1533.2,209.9 1534.0,208.9 1534.8,208.5 1535.5,209.4 1536.2,212.0 1537.0,215.5 1537.8,219.8 1538.5,225.0 1539.2,230.9 1540.0,237.2 1540.8,243.9 1541.5,249.8 1542.2,254.2 1543.0,258.1 1543.8,262.9 1544.5,267.8 1545.2,271.6 1546.0,274.8 1546.8,278.3 1547.5,282.6 1548.2,287.1 1549.0,291.0 1549.8,292.8 1550.5,293.0 1551.2,293.9 1552.0,296.0 1552.8,298.2 1553.5,299.7 1554.2,300.4 1555.0,300.2 1555.8,299.4 1556.5,299.0 1557.2,299.5 1558.0,300.0 1558.8,300.0 1559.5,299.9 1560.2,300.2 1561.0,300.6 1561.8,300.5 1562.5,300.2 1563.2,299.8 1564.0,299.2 1564.8,299.0 1565.5,299.2 1566.2,299.7 1567.0,300.0 1567.8,300.6 1568.5,301.3 1569.2,301.5 1570.0,301.2 1570.8,301.7 1571.5,303.2 1572.2,304.4 1573.0,304.4 1573.8,303.9 1574.5,304.0 1575.2,305.0 1576.0,305.8 1576.8,305.7 1577.5,305.0 1578.2,305.0 1579.0,306.1 1579.8,307.0 1580.5,306.5 1581.2,305.0 1582.0,303.8 1582.8,303.3 1583.5,302.9 1584.2,303.0 1585.0,303.1 1585.8,303.3 1586.5,303.4 1587.2,303.2 1588.0,302.8 1588.8,302.8 1589.5,304.2 1590.2,306.3 1591.0,307.6 1591.8,307.8 1592.5,307.1 1593.2,306.2 1594.0,304.8 1594.8,303.5 1595.5,303.1 1596.2,303.2 1597.0,303.6 1597.8,304.3 1598.5,304.5 1599.2,304.1 1600.0,303.6 1600.8,303.6 1601.5,304.0 1602.2,304.4 1603.0,305.5 1603.8,306.7 1604.5,306.8 1605.2,305.9 1606.0,305.0 1606.8,304.4 1607.5,304.1 1608.2,304.7 1609.0,306.0 1609.8,306.4 1610.5,305.3 1611.2,303.7 1612.0,303.1 1612.8,303.7 1613.5,304.3 1614.2,304.0 1615.0,303.5 1615.8,303.3 1616.5,303.1 1617.2,302.8 1618.0,303.1 1618.8,303.5 1619.5,303.6 1620.2,303.2 1621.0,302.9 1621.8,303.3 1622.5,303.7 1623.2,304.6 1624.0,305.6 1624.8,306.3 1625.5,306.0 1626.2,305.0 1627.0,303.9 1627.8,303.3 1628.5,303.3 1629.2,303.5 1630.0,303.7 1630.8,304.2 1631.5,305.0 1632.2,305.4 1633.0,305.4 1633.8,306.1 1634.5,307.0 1635.2,306.5 1636.0,305.1 1636.8,304.4 1637.5,304.7 1638.2,305.4 1639.0,305.8 1639.8,305.9 1640.5,305.6 1641.2,305.7 1642.0,306.6 1642.8,307.3 1643.5,306.9 1644.2,305.8 1645.0,304.9 1645.8,304.2 1646.5,303.8 1647.2,304.1 1648.0,305.2 1648.8,306.3 1649.5,306.8 1650.2,306.2 1651.0,304.8 1651.8,304.2 1652.5,304.6 1653.2,305.0 1654.0,304.5 1654.8,303.6 1655.5,303.4 1656.2,303.4 1657.0,303.7 1657.8,304.5 1658.5,304.8 1659.2,304.2 1660.0,303.6 1660.8,304.1 1661.5,305.1 1662.2,305.7 1663.0,305.6 1663.8,304.9 1664.5,304.0 1665.2,303.9 1666.0,304.7 1666.8,305.3 1667.5,304.7 1668.2,303.4 1669.0,302.5 1669.8,302.6 1670.5,303.3 1671.2,303.6 1672.0,303.2 1672.8,303.0 1673.5,303.8 1674.2,305.1 1675.0,305.9 1675.8,305.3 1676.5,303.8 1677.2,302.6 1678.0,302.5 1678.8,303.0 1679.5,303.8 1680.2,304.8 1681.0,305.3 1681.8,305.3 1682.5,305.1 1683.2,304.8 1684.0,304.8 1684.8,305.3 1685.5,305.7 1686.2,305.0 1687.0,303.4 1687.8,302.7 1688.5,303.3 1689.2,303.8 1690.0,304.2 1690.8,304.9 1691.5,306.3 1692.2,307.0 1693.0,306.3 1693.8,306.3 1694.5,307.4 1695.2,308.2 1696.0,307.9 1696.8,306.7 1697.5,306.3 1698.2,306.8 1699.0,307.4 1699.8,306.9 1700.5,305.3 1701.2,304.2 1702.0,304.6 1702.8,305.8 1703.5,306.0 1704.2,305.2 1705.0,304.3 1705.8,304.3 1706.5,304.5 1707.2,304.1 1708.0,303.5 1708.8,302.9 1709.5,302.3 1710.2,302.3 1711.0,302.5 1711.8,302.9 1712.5,303.0 1713.2,303.4 1714.0,303.7 1714.8,303.8 1715.5,304.2 1716.2,305.1 1717.0,306.0 1717.8,306.7 1718.5,307.4 1719.2,308.0 1720.0,308.0 1720.8,306.7 1721.5,304.4 1722.2,302.5 1723.0,302.0 1723.8,302.1 1724.5,301.9 1725.2,301.5 1726.0,302.1 1726.8,303.1 1727.5,303.4 1728.2,303.2 1729.0,302.8 1729.8,302.9 1730.5,303.1 1731.2,303.0 1732.0,302.6 1732.8,301.7 1733.5,300.6 1734.2,300.0 1735.0,299.9 1735.8,300.3 1736.5,300.9 1737.2,301.5 1738.0,301.9 1738.8,301.9 1739.5,302.2 1740.2,302.6 1741.0,302.4 1741.8,301.8 1742.5,301.6 1743.2,301.3 1744.0,300.2 1744.8,298.8 1745.5,297.9 1746.2,298.0 1747.0,298.7 1747.8,299.0 1748.5,298.7 1749.2,298.0 1750.0,297.4 1750.8,296.3 1751.5,295.1 1752.2,294.5 1753.0,294.4 1753.8,293.9 1754.5,293.1 1755.2,292.6 1756.0,292.6 1756.8,292.2 1757.5,291.3 1758.2,289.9 1759.0,288.2 1759.8,286.0 1760.5,283.8 1761.2,282.1 1762.0,282.0 1762.8,283.3 1763.5,284.7 1764.2,284.5 1765.0,282.9 1765.8,281.1 1766.5,279.3 1767.2,277.4 1768.0,275.9 1768.8,275.7 1769.5,276.5 1770.2,277.7 1771.0,279.3 1771.8,280.6 1772.5,281.0 1773.2,280.5 1774.0,279.6 1774.8,278.7 1775.5,278.0 1776.2,278.2 1777.0,279.8 1777.8,281.9 1778.5,283.0 1779.2,283.5 1780.0,284.3 1780.8,285.8 1781.5,287.3 1782.2,288.2 1783.0,288.5 1783.8,288.5 1784.5,288.9 1785.2,289.7 1786.0,290.5 1786.8,291.2 1787.5,292.3 1788.2,293.2 1789.0,293.3 1789.8,293.5 1790.5,294.5 1791.2,296.3 1792.0,297.4 1792.8,297.1 1793.5,295.8 1794.2,294.8 1795.0,294.8 1795.8,295.5 1796.5,296.5 1797.2,297.0 1798.0,297.0 1798.8,296.5 1799.5,296.7 1800.2,298.1 1801.0,299.2 1801.8,299.0 1802.5,298.0 1803.2,296.9 1804.0,296.5 1804.8,296.5 1805.5,296.7 1806.2,296.4 1807.0,295.1 1807.8,293.4 1808.5,292.2 1809.2,292.0 1810.0,292.7 1810.8,294.3 1811.5,295.9 1812.2,295.9 1813.0,294.0 1813.8,292.4 1814.5,292.8 1815.2,294.3 1816.0,295.2 1816.8,294.9 1817.5,294.5 1818.2,294.0 1819.0,292.8 1819.8,291.6 1820.5,291.2 1821.2,291.6 1822.0,291.3 1822.8,289.8 1823.5,287.9 1824.2,286.5 1825.0,286.5 1825.8,287.3 1826.5,287.9 1827.2,287.5 1828.0,287.0 1828.8,287.5 1829.5,289.1 1830.2,290.7 1831.0,290.8 1831.8,290.0 1832.5,289.8 1833.2,290.6 1834.0,291.1 1834.8,290.5 1835.5,290.2 1836.2,291.1 1837.0,291.9 1837.8,291.5 1838.5,290.8 1839.2,290.3 1840.0,290.8 1840.8,291.7 1841.5,292.1 1842.2,291.6 1843.0,291.5 1843.8,293.4 1844.5,295.5 1845.2,295.8 1846.0,295.0 1846.8,294.1 1847.5,293.5 1848.2,292.4 1849.0,290.9 1849.8,290.1 1850.5,290.2 1851.2,290.8 1852.0,289.7 1852.8,286.1 1853.5,282.3 1854.2,280.4 1855.0,279.7 1855.8,278.3 1856.5,276.1 1857.2,274.2 1858.0,272.7 1858.8,271.0 1859.5,269.3 1860.2,267.8 1861.0,265.3 1861.8,261.1 1862.5,256.4 1863.2,252.4 1864.0,249.6 1864.8,247.2 1865.5,244.6 1866.2,242.3 1867.0,241.2 1867.8,241.3 1868.5,241.5 1869.2,241.4 1870.0,241.3 1870.8,241.5 1871.5,242.4 1872.2,244.4 1873.0,247.6 1873.8,251.2 1874.5,254.1 1875.2,257.0 1876.0,260.7 1876.8,264.3 1877.5,267.1 1878.2,269.5 1879.0,271.8 1879.8,274.1 1880.5,276.5 1881.2,279.5 1882.0,283.0 1882.8,286.1 1883.5,287.7 1884.2,288.1 1885.0,288.2 1885.8,289.2 1886.5,290.5 1887.2,291.0 1888.0,291.0 1888.8,291.2 1889.5,292.7 1890.2,294.5 1891.0,295.2 1891.8,294.9 1892.5,295.3 1893.2,297.3 1894.0,299.4 1894.8,300.0 1895.5,299.6 1896.2,300.0 1897.0,301.2 1897.8,302.3 1898.5,302.6 1899.2,302.8 1900.0,303.1 1900.8,303.0 1901.5,302.8 1902.2,302.8 1903.0,303.0 1903.8,303.1 1904.5,303.2 1905.2,303.1 1906.0,302.5 1906.8,301.9 1907.5,301.5 1908.2,301.1 1909.0,300.3 1909.8,300.0 1910.5,300.8 1911.2,302.2 1912.0,303.4 1912.8,303.9 1913.5,303.8 1914.2,303.2 1915.0,302.6 1915.8,302.3 1916.5,302.5 1917.2,302.6 1918.0,302.6 1918.8,302.8 1919.5,303.1 1920.2,304.3 1921.0,305.9 1921.8,306.8 1922.5,306.5 1923.2,305.9 1924.0,306.3 1924.8,307.0 1925.5,307.6 1926.2,308.3 1927.0,308.4 1927.8,307.8 1928.5,306.7 1929.2,306.3 1930.0,306.5 1930.8,306.7 1931.5,306.7 1932.2,306.4 1933.0,306.2 1933.8,305.9 1934.5,305.1 1935.2,304.2 1936.0,303.7 1936.8,304.1 1937.5,304.9 1938.2,305.4 1939.0,305.5 1939.8,305.1 1940.5,304.4 1941.2,304.3 1942.0,304.6 1942.8,304.8 1943.5,304.2 1944.2,303.9 1945.0,304.6 1945.8,305.6 1946.5,305.7 1947.2,304.9 1948.0,303.9 1948.8,303.7 1949.5,304.0 1950.2,304.0 1951.0,303.9 1951.8,303.7 1952.5,303.5 1953.2,302.7 1954.0,302.0 1954.8,302.3 1955.5,303.2 1956.2,303.8 1957.0,303.7 1957.8,303.1 1958.5,301.7 1959.2,299.1 1960.0,296.5 1960.8,294.3 1961.5,292.8 1962.2,291.9 1963.0,291.1 1963.8,290.7 1964.5,290.4 1965.2,290.6 1966.0,291.3 1966.8,291.8 1967.5,292.3 1968.2,293.0 1969.0,293.7 1969.8,294.3 1970.5,295.1 1971.2,295.8 1972.0,296.1 1972.8,296.6 1973.5,297.7 1974.2,298.7 1975.0,299.0 1975.8,299.1 1976.5,299.5 1977.2,299.8 1978.0,300.2 1978.8,300.5 1979.5,299.7 1980.2,298.3 1981.0,297.9 1981.8,299.3 1982.5,301.5 1983.2,302.6 1984.0,302.2 1984.8,301.2 1985.5,300.9 1986.2,301.3 1987.0,301.9 1987.8,302.7 1988.5,304.2 1989.2,305.3 1990.0,305.4 1990.8,305.1 1991.5,304.8 1992.2,304.7 1993.0,305.2 1993.8,306.3 1994.5,307.7 1995.2,308.3 1996.0,308.0 1996.8,307.8 1997.5,308.1 1998.2,308.2 1999.0,307.2 1999.8,305.7 2000.5,304.8 2001.2,304.4 2002.0,304.3 2002.8,305.2 2003.5,306.7 2004.2,307.7 2005.0,308.1 2005.8,308.6 2006.5,309.3 2007.2,309.0 2008.0,307.9 2008.8,307.0 2009.5,306.9 2010.2,307.3 2011.0,307.7 2011.8,307.6 2012.5,307.0 2013.2,306.2 2014.0,305.7 2014.8,305.5 2015.5,305.4 2016.2,305.5 2017.0,305.9 2017.8,306.7 2018.5,307.1 2019.2,306.9 2020.0,306.2 2020.8,305.3 2021.5,305.1 2022.2,305.6 2023.0,305.9 2023.8,305.5 2024.5,305.0 2025.2,304.6 2026.0,303.6 2026.8,302.2 2027.5,301.8 2028.2,303.3 2029.0,305.8 2029.8,307.9 2030.5,308.8 2031.2,308.1 2032.0,307.2 2032.8,307.0 2033.5,307.2 2034.2,306.6 2035.0,305.0 2035.8,304.0 2036.5,304.9 2037.2,306.6 2038.0,307.5 2038.8,306.6 2039.5,305.4 2040.2,305.3 2041.0,306.0 2041.8,306.2 2042.5,305.3 2043.2,304.3 2044.0,303.9 2044.8,304.0 2045.5,303.6 2046.2,302.9 2047.0,303.1 2047.8,303.5 2048.5,303.2 2049.2,302.8 2050.0,303.1 2050.8,303.8 2051.5,303.7 2052.2,302.9 2053.0,302.4 2053.8,302.8 2054.5,303.8 2055.2,304.6 2056.0,304.8 2056.8,304.5 2057.5,303.9 2058.2,303.2 2059.0,302.4 2059.8,301.4 2060.5,299.8 2061.2,298.0 2062.0,296.1 2062.8,295.1 2063.5,295.4 2064.2,296.2 2065.0,296.6 2065.8,296.8 2066.5,297.0 2067.2,297.0 2068.0,296.2 2068.8,295.2 2069.5,294.9 2070.2,295.3 2071.0,295.7 2071.8,295.3 2072.5,294.6 2073.2,294.5 2074.0,294.4 2074.8,294.1 2075.5,294.3 2076.2,294.3 2077.0,293.7 2077.8,293.7 2078.5,295.2 2079.2,297.3 2080.0,297.8 2080.8,296.5 2081.5,295.9 2082.2,297.0 2083.0,299.1 2083.8,300.9 2084.5,301.9 2085.2,302.7 2086.0,303.3 2086.8,303.1 2087.5,302.3 2088.2,301.8 2089.0,301.6 2089.8,301.6 2090.5,302.0 2091.2,302.8 2092.0,303.5 2092.8,303.7 2093.5,303.9 2094.2,304.5 2095.0,304.9 2095.8,305.0 2096.5,304.4 2097.2,303.8 2098.0,303.6 2098.8,303.3 2099.5,302.8 2100.2,302.8 2101.0,303.7 2101.8,304.8 2102.5,305.4 2103.2,305.4 2104.0,305.6 2104.8,306.2 2105.5,306.5 2106.2,306.5 2107.0,305.8 2107.8,304.8 2108.5,304.1 2109.2,304.6 2110.0,305.7 2110.8,306.2 2111.5,306.1 2112.2,305.7 2113.0,305.7 2113.8,306.0 2114.5,306.0 2115.2,305.5 2116.0,305.0 2116.8,305.0 2117.5,305.1 2118.2,305.1 2119.0,304.7 2119.8,304.2 2120.5,304.1 2121.2,304.6 2122.0,305.5 2122.8,306.1 2123.5,306.4 2124.2,306.3 2125.0,306.4 2125.8,306.8 2126.5,306.6 2127.2,305.8 2128.0,304.6 2128.8,303.6 2129.5,302.9 2130.2,302.9 2131.0,303.9 2131.8,305.9 2132.5,307.4 2133.2,307.7 2134.0,307.1 2134.8,306.4 2135.5,305.0 2136.2,303.6 2137.0,303.5 2137.8,304.4 2138.5,304.7 2139.2,304.5 2140.0,304.7 2140.8,305.2 2141.5,304.8 2142.2,303.7 2143.0,303.1 2143.8,303.4 2144.5,304.4 2145.2,305.2 2146.0,305.3 2146.8,305.1 2147.5,304.9 2148.2,305.1 2149.0,305.4 2149.8,305.7 2150.5,305.6 2151.2,305.5 2152.0,305.7 2152.8,306.5 2153.5,307.5 2154.2,308.0 2155.0,307.5 2155.8,306.6 2156.5,305.8 2157.2,304.9 2158.0,303.9 2158.8,303.4 2159.5,303.3 2160.2,303.1 2161.0,303.0 2161.8,303.6 2162.5,304.3 2163.2,304.0 2164.0,303.8 2164.8,304.4 2165.5,305.0 2166.2,305.5 2167.0,306.3 2167.8,307.1 2168.5,306.5 2169.2,304.7 2170.0,303.8 2170.8,303.9 2171.5,304.4 2172.2,304.4 2173.0,304.5 2173.8,305.4 2174.5,306.6 2175.2,307.8 2176.0,307.9 2176.8,307.4 2177.5,306.8 2178.2,306.7 2179.0,307.3 2179.8,307.8 2180.5,307.9 2181.2,308.0 2182.0,308.0 2182.8,307.4 2183.5,306.2 2184.2,304.9 2185.0,304.1 2185.8,303.7 2186.5,303.6 2187.2,303.7 2188.0,303.9 2188.8,304.3 2189.5,304.7 2190.2,304.8 2191.0,304.3 2191.8,303.0 2192.5,302.0 2193.2,302.6 2194.0,303.8 2194.8,304.5 2195.5,304.7 2196.2,304.8 2197.0,305.1 2197.8,305.0 2198.5,305.0 2199.2,304.9 2200.0,304.2 2200.8,303.7 2201.5,303.7 2202.2,304.3 2203.0,304.5 2203.8,304.1 2204.5,304.0 2205.2,304.3 2206.0,304.7 2206.8,305.0 2207.5,305.1 2208.2,305.3 2209.0,305.5 2209.8,305.5 2210.5,305.3 2211.2,305.6 2212.0,306.2 2212.8,306.2 2213.5,305.2 2214.2,304.4 2215.0,304.8 2215.8,305.0 2216.5,304.6 2217.2,304.2 2218.0,303.9 2218.8,303.4 2219.5,302.5 2220.2,302.0 2221.0,302.2 2221.8,303.2 2222.5,304.1 2223.2,304.7 2224.0,305.3 2224.8,305.8 2225.5,305.5 2226.2,304.7 2227.0,303.6 2227.8,302.5 2228.5,301.8 2229.2,302.2 2230.0,303.1 2230.8,303.5 2231.5,303.8 2232.2,304.4 2233.0,304.5 2233.8,304.0 2234.5,303.7 2235.2,304.2 2236.0,305.1 2236.8,305.9 2237.5,306.3 2238.2,305.7 2239.0,304.6 2239.8,304.0 2240.5,303.8 2241.2,303.8 2242.0,303.6 2242.8,303.4 2243.5,303.1 2244.2,302.8 2245.0,302.8 2245.8,302.9 2246.5,303.3 2247.2,303.6 2248.0,303.1 2248.8,302.5 2249.5,302.5 2250.2,303.5 2251.0,303.8 2251.8,302.7 2252.5,301.7 2253.2,302.4 2254.0,304.3 2254.8,305.3 2255.5,304.7 2256.2,304.2 2257.0,304.8 2257.8,305.6 2258.5,305.0 2259.2,303.9 2260.0,303.7 2260.8,304.5 2261.5,305.1 2262.2,304.4 2263.0,303.6 2263.8,303.3 2264.5,303.4 2265.2,304.3 2266.0,305.4 2266.8,305.9 2267.5,305.3 2268.2,304.1 2269.0,303.2 2269.8,302.7 2270.5,302.9 2271.2,303.1 2272.0,303.1 2272.8,303.5 2273.5,304.1 2274.2,304.3 2275.0,302.9 2275.8,301.2 2276.5,300.8 2277.2,301.6 2278.0,302.7 2278.8,303.0 2279.5,303.1 2280.2,303.4 2281.0,303.9 2281.8,304.3 2282.5,304.8 2283.2,305.0 2284.0,304.8 2284.8,304.5 2285.5,304.2 2286.2,303.6 2287.0,303.0 2287.8,303.1 2288.5,303.5 2289.2,303.3 2290.0,302.6 2290.8,302.0 2291.5,301.6 2292.2,301.0 2293.0,300.8 2293.8,301.2 2294.5,302.0 2295.2,302.4 2296.0,301.9 2296.8,301.2 2297.5,301.2 2298.2,302.3 2299.0,303.5 2299.8,303.5 2300.5,302.2 2301.2,301.3 2302.0,301.6 2302.8,302.2 2303.5,301.9 2304.2,301.3 2305.0,301.4 2305.8,301.9 2306.5,301.3 2307.2,299.6 2308.0,298.2 2308.8,298.2 2309.5,299.2 2310.2,299.9 2311.0,299.3 2311.8,297.6 2312.5,296.1 2313.2,295.8 2314.0,296.0 2314.8,295.6 2315.5,295.7 2316.2,296.9 2317.0,298.6 2317.8,299.6 2318.5,300.2 2319.2,300.7 2320.0,300.9"/>
<polyline fill="none" stroke="#ff0000" stroke-width="7" stroke-linejoin="round" stroke-linecap="butt" points="187.0,652.6 187.8,652.0 188.5,651.7 189.2,651.6 190.0,651.3 190.8,650.7 191.5,650.0 192.2,649.8 193.0,650.2 193.8,650.5 194.5,650.4 195.2,650.0 196.0,649.9 196.8,650.5 197.5,651.4 198.2,652.1 199.0,652.2 199.8,651.9 200.5,652.3 201.2,653.0 202.0,652.6 202.8,650.5 203.5,648.9 204.2,649.6 205.0,651.6 205.8,653.3 206.5,654.0 207.2,654.0 208.0,653.7 208.8,653.6 209.5,653.6 210.2,653.3 211.0,652.7 211.8,653.0 212.5,653.9 213.2,653.9 214.0,652.3 214.8,651.0 215.5,651.0 216.2,651.8 217.0,651.8 217.8,650.9 218.5,650.6 219.2,650.8 220.0,650.8 220.8,650.7 221.5,651.1 222.2,652.3 223.0,653.5 223.8,654.4 224.5,654.6 225.2,653.5 226.0,652.0 226.8,651.5 227.5,651.7 228.2,651.6 229.0,651.4 229.8,651.3 230.5,650.6 231.2,648.8 232.0,647.5 232.8,648.0 233.5,649.9 234.2,651.6 235.0,651.6 235.8,650.8 236.5,650.2 237.2,649.9 238.0,649.6 238.8,649.5 239.5,650.6 240.2,652.3 241.0,653.1 241.8,652.6 242.5,652.0 243.2,652.3 244.0,652.6 244.8,652.6 245.5,652.0 246.2,651.8 247.0,652.4 247.8,653.3 248.5,654.0 249.2,654.3 250.0,654.0 250.8,653.5 251.5,652.7 252.2,652.3 253.0,652.4 253.8,652.4 254.5,652.1 255.2,651.8 256.0,651.5 256.8,651.3 257.5,651.8 258.2,653.1 259.0,654.6 259.8,655.8 260.5,656.5 261.2,656.1 262.0,655.1 262.8,654.0 263.5,653.5 264.2,653.3 265.0,652.9 265.8,652.6 266.5,652.3 267.2,652.6 268.0,653.0 268.8,653.3 269.5,653.6 270.2,653.9 271.0,653.4 271.8,651.7 272.5,650.3 273.2,650.0 274.0,650.7 274.8,651.3 275.5,651.2 276.2,650.6 277.0,649.9 277.8,649.5 278.5,649.6 279.2,650.3 280.0,651.6 280.8,652.6 281.5,652.5 282.2,651.7 283.0,651.4 283.8,652.2 284.5,652.9 285.2,652.7 286.0,651.7 286.8,650.9 287.5,650.9 288.2,651.5 289.0,651.7 289.8,651.3 290.5,650.9 291.2,651.1 292.0,651.7 292.8,652.2 293.5,652.0 294.2,651.2 295.0,650.4 295.8,649.9 296.5,650.0 297.2,650.4 298.0,650.9 298.8,651.8 299.5,652.8 300.2,653.6 301.0,653.4 301.8,652.3 302.5,651.4 303.2,651.0 304.0,651.2 304.8,651.8 305.5,652.5 306.2,653.3 307.0,653.9 307.8,654.2 308.5,653.8 309.2,652.5 310.0,651.5 310.8,651.0 311.5,650.8 312.2,650.8 313.0,650.5 313.8,649.7 314.5,648.6 315.2,648.3 316.0,649.6 316.8,650.6 317.5,650.4 318.2,649.1 319.0,648.1 319.8,648.1 320.5,648.6 321.2,648.8 322.0,649.2 322.8,649.5 323.5,649.8 324.2,650.8 325.0,652.3 325.8,653.4 326.5,653.4 327.2,653.5 328.0,654.4 328.8,654.6 329.5,653.7 330.2,652.5 331.0,651.6 331.8,651.3 332.5,651.3 333.2,651.6 334.0,651.9 334.8,652.2 335.5,652.0 336.2,650.6 337.0,648.6 337.8,648.0 338.5,649.5 339.2,650.9 340.0,651.0 340.8,650.3 341.5,650.1 342.2,650.2 343.0,649.9 343.8,649.2 344.5,649.2 345.2,649.6 346.0,649.8 346.8,650.0 347.5,650.0 348.2,649.0 349.0,646.8 349.8,645.5 350.5,645.6 351.2,645.2 352.0,643.8 352.8,642.9 353.5,642.8 354.2,643.4 355.0,644.9 355.8,646.9 356.5,647.6 357.2,646.5 358.0,645.0 358.8,644.0 359.5,643.9 360.2,644.3 361.0,644.7 361.8,645.1 362.5,646.3 363.2,648.2 364.0,650.0 364.8,650.8 365.5,650.5 366.2,649.4 367.0,648.3 367.8,648.5 368.5,650.0 369.2,651.4 370.0,651.8 370.8,651.0 371.5,650.1 372.2,649.4 373.0,649.6 373.8,651.0 374.5,652.4 375.2,652.4 376.0,651.1 376.8,649.9 377.5,649.5 378.2,649.4 379.0,649.2 379.8,649.0 380.5,648.7 381.2,648.5 382.0,648.1 382.8,647.7 383.5,647.8 384.2,648.6 385.0,650.0 385.8,651.7 386.5,653.5 387.2,654.7 388.0,654.9 388.8,654.4 389.5,654.2 390.2,654.8 391.0,655.1 391.8,654.8 392.5,654.4 393.2,654.1 394.0,653.2 394.8,651.8 395.5,651.0 396.2,650.8 397.0,650.5 397.8,650.6 398.5,651.8 399.2,653.7 400.0,655.5 400.8,656.3 401.5,656.1 402.2,655.5 403.0,654.8 403.8,653.5 404.5,651.8 405.2,651.1 406.0,652.3 406.8,654.2 407.5,655.1 408.2,654.4 409.0,653.2 409.8,653.0 410.5,653.6 411.2,653.6 412.0,652.5 412.8,651.8 413.5,652.5 414.2,653.7 415.0,654.2 415.8,654.3 416.5,654.2 417.2,653.9 418.0,652.8 418.8,651.2 419.5,650.4 420.2,651.4 421.0,653.1 421.8,653.6 422.5,652.9 423.2,652.1 424.0,652.1 424.8,652.1 425.5,652.1 426.2,652.8 427.0,653.3 427.8,653.6 428.5,653.7 429.2,653.2 430.0,652.0 430.8,651.1 431.5,651.5 432.2,652.4 433.0,652.4 433.8,651.5 434.5,651.0 435.2,651.2 436.0,651.9 436.8,652.3 437.5,651.7 438.2,649.9 439.0,648.1 439.8,647.9 440.5,649.1 441.2,650.4 442.0,651.2 442.8,652.1 443.5,652.7 444.2,652.3 445.0,651.7 445.8,651.3 446.5,651.0 447.2,651.1 448.0,651.4 448.8,651.4 449.5,650.1 450.2,647.9 451.0,645.9 451.8,644.3 452.5,643.2 453.2,642.2 454.0,641.1 454.8,639.8 455.5,638.0 456.2,635.2 457.0,630.9 457.8,625.0 458.5,618.5 459.2,612.4 460.0,607.3 460.8,602.1 461.5,596.0 462.2,590.8 463.0,588.4 463.8,589.1 464.5,592.0 465.2,595.9 466.0,600.7 466.8,606.3 467.5,612.7 468.2,619.3 469.0,624.9 469.8,629.5 470.5,634.1 471.2,639.1 472.0,643.0 472.8,644.9 473.5,645.8 474.2,647.1 475.0,648.9 475.8,650.6 476.5,651.1 477.2,650.3 478.0,649.1 478.8,648.3 479.5,648.7 480.2,650.2 481.0,651.8 481.8,652.7 482.5,653.2 483.2,653.4 484.0,653.4 484.8,652.9 485.5,652.6 486.2,652.1 487.0,651.0 487.8,650.7 488.5,651.0 489.2,650.9 490.0,651.1 490.8,651.8 491.5,652.8 492.2,652.9 493.0,652.4 493.8,652.0 494.5,652.0 495.2,652.5 496.0,652.7 496.8,652.5 497.5,652.3 498.2,652.2 499.0,651.7 499.8,650.9 500.5,650.7 501.2,651.4 502.0,652.4 502.8,653.6 503.5,654.8 504.2,655.3 505.0,654.8 505.8,653.5 506.5,653.0 507.2,653.4 508.0,653.8 508.8,654.5 509.5,654.7 510.2,654.3 511.0,653.8 511.8,653.9 512.5,655.0 513.2,655.3 514.0,653.9 514.8,651.6 515.5,650.3 516.2,650.4 517.0,650.9 517.8,651.1 518.5,651.2 519.2,652.2 520.0,653.3 520.8,653.4 521.5,652.4 522.2,651.2 523.0,650.5 523.8,650.1 524.5,650.5 525.2,651.8 526.0,652.9 526.8,653.3 527.5,653.6 528.2,654.0 529.0,654.4 529.8,654.3 530.5,654.1 531.2,654.2 532.0,654.5 532.8,654.2 533.5,653.6 534.2,653.8 535.0,655.2 535.8,656.8 536.5,657.0 537.2,656.1 538.0,654.8 538.8,654.3 539.5,654.2 540.2,653.8 541.0,653.2 541.8,652.9 542.5,653.2 543.2,653.9 544.0,654.6 544.8,655.1 545.5,655.0 546.2,654.1 547.0,653.0 547.8,652.3 548.5,652.6 549.2,653.6 550.0,654.1 550.8,653.8 551.5,653.5 552.2,653.2 553.0,652.9 553.8,652.6 554.5,652.3 555.2,651.4 556.0,650.3 556.8,650.3 557.5,651.2 558.2,651.6 559.0,651.8 559.8,652.6 560.5,653.5 561.2,653.9 562.0,653.6 562.8,653.1 563.5,652.2 564.2,651.1 565.0,649.9 565.8,649.1 566.5,649.1 567.2,649.6 568.0,649.6 568.8,649.6 569.5,650.9 570.2,652.8 571.0,653.6 571.8,652.8 572.5,651.8 573.2,652.1 574.0,652.8 574.8,653.4 575.5,653.9 576.2,654.3 577.0,654.1 577.8,652.9 578.5,652.0 579.2,652.0 580.0,651.9 580.8,651.6 581.5,651.9 582.2,653.1 583.0,654.4 583.8,654.9 584.5,654.4 585.2,653.7 586.0,653.5 586.8,653.7 587.5,653.3 588.2,652.2 589.0,651.2 589.8,650.5 590.5,649.6 591.2,648.5 592.0,647.9 592.8,647.7 593.5,647.7 594.2,647.6 595.0,647.9 595.8,648.4 596.5,647.6 597.2,645.4 598.0,642.9 598.8,641.2 599.5,640.0 600.2,638.1 601.0,635.4 601.8,632.2 602.5,628.3 603.2,623.6 604.0,618.4 604.8,613.7 605.5,609.1 606.2,603.6 607.0,597.6 607.8,592.7 608.5,590.4 609.2,590.8 610.0,592.8 610.8,596.2 611.5,601.2 612.2,607.1 613.0,612.6 613.8,616.8 614.5,620.1 615.2,623.4 616.0,626.9 616.8,630.1 617.5,632.7 618.2,634.5 619.0,635.9 619.8,636.8 620.5,637.0 621.2,636.0 622.0,634.4 622.8,633.5 623.5,632.7 624.2,630.6 625.0,626.4 625.8,620.4 626.5,613.9 627.2,608.1 628.0,602.8 628.8,596.6 629.5,589.5 630.2,582.7 631.0,577.2 631.8,573.8 632.5,572.8 633.2,574.7 634.0,579.3 634.8,585.6 635.5,592.3 636.2,598.4 637.0,604.2 637.8,610.1 638.5,616.3 639.2,622.6 640.0,628.2 640.8,632.0 641.5,634.6 642.2,637.8 643.0,641.2 643.8,643.3 644.5,644.5 645.2,645.9 646.0,647.7 646.8,648.6 647.5,648.6 648.2,649.1 649.0,650.4 649.8,652.5 650.5,654.0 651.2,653.8 652.0,652.4 652.8,651.3 653.5,651.4 654.2,651.6 655.0,651.6 655.8,652.2 656.5,652.7 657.2,652.1 658.0,651.1 658.8,650.8 659.5,651.4 660.2,652.0 661.0,652.3 661.8,652.8 662.5,653.5 663.2,654.6 664.0,655.6 664.8,655.7 665.5,654.9 666.2,654.2 667.0,654.5 667.8,654.9 668.5,654.8 669.2,654.5 670.0,654.7 670.8,655.1 671.5,654.9 672.2,654.5 673.0,654.2 673.8,654.4 674.5,654.8 675.2,655.2 676.0,655.3 676.8,654.5 677.5,653.9 678.2,654.5 679.0,655.4 679.8,654.9 680.5,653.9 681.2,654.4 682.0,656.1 682.8,657.1 683.5,656.4 684.2,655.0 685.0,654.3 685.8,654.0 686.5,653.5 687.2,652.9 688.0,653.2 688.8,654.3 689.5,654.8 690.2,654.5 691.0,654.6 691.8,654.5 692.5,653.7 693.2,652.9 694.0,653.5 694.8,655.1 695.5,656.1 696.2,656.5 697.0,657.0 697.8,657.3 698.5,657.4 699.2,657.2 700.0,657.3 700.8,657.4 701.5,657.1 702.2,656.4 703.0,655.4 703.8,654.6 704.5,654.6 705.2,655.1 706.0,655.2 706.8,655.1 707.5,655.8 708.2,656.2 709.0,655.4 709.8,653.9 710.5,652.5 711.2,652.1 712.0,652.4 712.8,653.3 713.5,654.3 714.2,654.9 715.0,656.0 715.8,657.4 716.5,658.1 717.2,657.9 718.0,657.3 718.8,656.7 719.5,656.2 720.2,655.9 721.0,656.0 721.8,656.7 722.5,657.6 723.2,658.4 724.0,659.3 724.8,659.6 725.5,658.6 726.2,656.7 727.0,655.2 727.8,654.8 728.5,654.6 729.2,654.6 730.0,655.0 730.8,655.4 731.5,655.5 732.2,655.0 733.0,654.6 733.8,654.9 734.5,655.7 735.2,656.2 736.0,656.1 736.8,655.5 737.5,655.0 738.2,654.8 739.0,654.9 739.8,655.3 740.5,656.0 741.2,657.5 742.0,658.7 742.8,658.5 743.5,657.1 744.2,656.1 745.0,656.6 745.8,658.1 746.5,658.7 747.2,658.0 748.0,657.2 748.8,656.9 749.5,656.7 750.2,656.5 751.0,656.9 751.8,657.7 752.5,658.4 753.2,658.8 754.0,658.1 754.8,655.8 755.5,653.3 756.2,652.7 757.0,654.2 757.8,656.1 758.5,656.7 759.2,656.2 760.0,655.8 760.8,656.0 761.5,656.0 762.2,655.3 763.0,654.1 763.8,653.4 764.5,653.4 765.2,653.8 766.0,654.4 766.8,654.9 767.5,655.6 768.2,656.0 769.0,655.2 769.8,653.4 770.5,651.7 771.2,651.5 772.0,652.7 772.8,653.4 773.5,653.2 774.2,653.2 775.0,653.9 775.8,653.9 776.5,653.2 777.2,652.5 778.0,652.4 778.8,652.6 779.5,652.5 780.2,652.2 781.0,651.6 781.8,651.2 782.5,651.7 783.2,652.6 784.0,653.3 784.8,653.1 785.5,651.9 786.2,650.2 787.0,649.3 787.8,648.8 788.5,647.9 789.2,647.0 790.0,646.4 790.8,646.3 791.5,646.4 792.2,646.4 793.0,645.9 793.8,644.7 794.5,643.3 795.2,642.0 796.0,640.6 796.8,639.2 797.5,637.9 798.2,636.2 799.0,633.4 799.8,629.6 800.5,625.3 801.2,620.9 802.0,616.6 802.8,611.7 803.5,606.6 804.2,600.1 805.0,590.9 805.8,578.6 806.5,563.7 807.2,546.7 808.0,527.9 808.8,508.1 809.5,487.8 810.2,465.7 811.0,441.5 811.8,417.7 812.5,398.1 813.2,384.5 814.0,377.2 814.8,376.3 815.5,380.7 816.2,389.8 817.0,402.8 817.8,418.1 818.5,435.2 819.2,453.9 820.0,473.2 820.8,491.7 821.5,507.4 822.2,520.9 823.0,533.7 823.8,545.7 824.5,555.7 825.2,562.9 826.0,568.1 826.8,572.3 827.5,576.3 828.2,579.8 829.0,583.1 829.8,586.6 830.5,589.3 831.2,591.2 832.0,593.5 832.8,596.6 833.5,599.8 834.2,602.5 835.0,605.9 835.8,610.3 836.5,614.2 837.2,617.1 838.0,620.4 838.8,624.9 839.5,629.8 840.2,633.5 841.0,636.8 841.8,639.9 842.5,642.5 843.2,644.1 844.0,645.0 844.8,645.9 845.5,646.1 846.2,646.1 847.0,645.9 847.8,645.7 848.5,646.1 849.2,647.2 850.0,649.2 850.8,651.0 851.5,652.0 852.2,652.1 853.0,651.6 853.8,651.2 854.5,651.3 855.2,652.0 856.0,652.6 856.8,652.2 857.5,651.1 858.2,651.1 859.0,652.7 859.8,655.1 860.5,656.9 861.2,657.8 862.0,657.9 862.8,657.5 863.5,657.1 864.2,657.1 865.0,657.9 865.8,659.3 866.5,659.5 867.2,658.3 868.0,657.2 868.8,656.8 869.5,656.9 870.2,656.6 871.0,656.6 871.8,657.5 872.5,658.5 873.2,658.7 874.0,658.2 874.8,658.0 875.5,658.5 876.2,658.6 877.0,658.2 877.8,657.6 878.5,657.6 879.2,658.0 880.0,658.2 880.8,658.3 881.5,659.2 882.2,660.8 883.0,661.1 883.8,659.1 884.5,656.8 885.2,656.3 886.0,657.9 886.8,659.7 887.5,659.9 888.2,658.6 889.0,657.2 889.8,657.2 890.5,658.6 891.2,659.6 892.0,659.7 892.8,659.4 893.5,658.9 894.2,659.0 895.0,660.3 895.8,662.2 896.5,662.6 897.2,661.5 898.0,660.6 898.8,661.0 899.5,662.1 900.2,662.0 901.0,661.3 901.8,661.1 902.5,661.6 903.2,661.8 904.0,661.2 904.8,660.9 905.5,661.1 906.2,661.3 907.0,660.7 907.8,659.7 908.5,659.6 909.2,660.8 910.0,662.7 910.8,663.7 911.5,663.8 912.2,663.9 913.0,664.2 913.8,664.0 914.5,662.9 915.2,661.5 916.0,660.7 916.8,660.3 917.5,660.0 918.2,659.5 919.0,658.6 919.8,657.9 920.5,658.1 921.2,659.3 922.0,660.3 922.8,660.7 923.5,660.4 924.2,659.8 925.0,659.5 925.8,659.9 926.5,660.9 927.2,661.2 928.0,660.2 928.8,659.1 929.5,658.9 930.2,659.0 931.0,658.7 931.8,657.9 932.5,657.2 933.2,657.3 934.0,658.4 934.8,659.7 935.5,660.0 936.2,659.8 937.0,660.6 937.8,661.7 938.5,661.6 939.2,660.5 940.0,659.6 940.8,659.6 941.5,659.9 942.2,659.8 943.0,659.0 943.8,657.9 944.5,657.1 945.2,656.7 946.0,656.8 946.8,657.2 947.5,658.4 948.2,659.5 949.0,659.6 949.8,659.3 950.5,659.5 951.2,659.4 952.0,658.1 952.8,656.4 953.5,656.6 954.2,658.3 955.0,659.3 955.8,658.9 956.5,658.8 957.2,659.6 958.0,659.9 958.8,658.9 959.5,657.5 960.2,657.2 961.0,657.7 961.8,659.0 962.5,660.3 963.2,661.5 964.0,662.1 964.8,661.8 965.5,661.5 966.2,661.2 967.0,660.8 967.8,660.4 968.5,660.2 969.2,660.2 970.0,659.9 970.8,659.1 971.5,659.1 972.2,659.9 973.0,660.1 973.8,658.8 974.5,656.3 975.2,653.7 976.0,651.9 976.8,651.2 977.5,650.8 978.2,649.3 979.0,646.7 979.8,643.9 980.5,641.4 981.2,638.7 982.0,635.6 982.8,632.2 983.5,628.2 984.2,623.0 985.0,616.7 985.8,609.8 986.5,602.0 987.2,593.9 988.0,585.7 988.8,577.7 989.5,570.0 990.2,562.8 991.0,557.6 991.8,555.7 992.5,557.5 993.2,562.4 994.0,569.1 994.8,576.8 995.5,584.8 996.2,592.7 997.0,600.0 997.8,606.7 998.5,613.1 999.2,619.2 1000.0,623.9 1000.8,627.5 1001.5,630.9 1002.2,634.7 1003.0,637.9 1003.8,639.3 1004.5,639.3 1005.2,638.8 1006.0,638.9 1006.8,640.6 1007.5,642.9 1008.2,644.5 1009.0,645.0 1009.8,644.9 1010.5,645.0 1011.2,645.1 1012.0,645.7 1012.8,647.0 1013.5,649.1 1014.2,651.6 1015.0,653.6 1015.8,654.5 1016.5,654.6 1017.2,654.9 1018.0,654.9 1018.8,654.0 1019.5,653.3 1020.2,654.1 1021.0,655.6 1021.8,656.9 1022.5,657.4 1023.2,657.5 1024.0,657.4 1024.8,657.9 1025.5,658.7 1026.2,658.8 1027.0,658.6 1027.8,658.9 1028.5,659.8 1029.2,660.2 1030.0,659.9 1030.8,659.3 1031.5,658.5 1032.2,657.8 1033.0,657.1 1033.8,657.3 1034.5,658.6 1035.2,659.9 1036.0,660.3 1036.8,659.8 1037.5,659.5 1038.2,659.7 1039.0,660.1 1039.8,660.8 1040.5,661.6 1041.2,662.6 1042.0,662.7 1042.8,661.6 1043.5,660.1 1044.2,658.8 1045.0,658.2 1045.8,657.2 1046.5,655.3 1047.2,652.9 1048.0,650.2 1048.8,647.6 1049.5,645.2 1050.2,643.0 1051.0,640.6 1051.8,637.2 1052.5,633.0 1053.2,628.5 1054.0,623.7 1054.8,619.7 1055.5,617.8 1056.2,618.4 1057.0,620.8 1057.8,623.8 1058.5,627.2 1059.2,630.9 1060.0,634.6 1060.8,637.8 1061.5,641.0 1062.2,645.3 1063.0,649.8 1063.8,652.7 1064.5,653.1 1065.2,652.4 1066.0,652.7 1066.8,654.4 1067.5,656.2 1068.2,657.1 1069.0,657.1 1069.8,657.4 1070.5,658.6 1071.2,659.8 1072.0,660.3 1072.8,660.2 1073.5,659.4 1074.2,658.6 1075.0,658.4 1075.8,659.2 1076.5,660.2 1077.2,660.3 1078.0,660.1 1078.8,660.1 1079.5,660.9 1080.2,661.3 1081.0,660.8 1081.8,659.9 1082.5,659.6 1083.2,659.8 1084.0,660.1 1084.8,660.4 1085.5,661.2 1086.2,662.3 1087.0,662.7 1087.8,662.8 1088.5,663.4 1089.2,664.3 1090.0,664.8 1090.8,664.8 1091.5,664.5 1092.2,664.1 1093.0,663.2 1093.8,661.8 1094.5,660.9 1095.2,660.7 1096.0,661.5 1096.8,662.2 1097.5,661.9 1098.2,661.2 1099.0,660.8 1099.8,661.5 1100.5,662.6 1101.2,663.3 1102.0,663.5 1102.8,663.3 1103.5,663.4 1104.2,663.8 1105.0,664.1 1105.8,664.3 1106.5,664.1 1107.2,663.7 1108.0,663.0 1108.8,662.0 1109.5,661.7 1110.2,662.4 1111.0,663.4 1111.8,663.7 1112.5,663.8 1113.2,664.0 1114.0,663.3 1114.8,662.0 1115.5,661.0 1116.2,660.5 1117.0,660.1 1117.8,660.1 1118.5,660.7 1119.2,661.4 1120.0,661.6 1120.8,661.2 1121.5,661.0 1122.2,661.3 1123.0,661.0 1123.8,660.1 1124.5,658.9 1125.2,658.7 1126.0,659.1 1126.8,659.2 1127.5,658.2 1128.2,656.0 1129.0,654.5 1129.8,653.7 1130.5,652.5 1131.2,650.3 1132.0,647.3 1132.8,644.4 1133.5,640.9 1134.2,636.0 1135.0,629.8 1135.8,623.4 1136.5,617.8 1137.2,613.6 1138.0,610.8 1138.8,610.4 1139.5,612.1 1140.2,614.2 1141.0,616.2 1141.8,617.9 1142.5,619.6 1143.2,622.0 1144.0,625.3 1144.8,629.8 1145.5,634.3 1146.2,637.8 1147.0,640.6 1147.8,643.4 1148.5,645.6 1149.2,646.5 1150.0,646.5 1150.8,647.3 1151.5,649.6 1152.2,652.5 1153.0,654.8 1153.8,656.3 1154.5,657.5 1155.2,658.2 1156.0,658.6 1156.8,658.9 1157.5,659.0 1158.2,658.9 1159.0,658.8 1159.8,659.0 1160.5,659.7 1161.2,660.4 1162.0,660.7 1162.8,660.8 1163.5,660.6 1164.2,660.6 1165.0,661.1 1165.8,661.7 1166.5,662.1 1167.2,661.7 1168.0,660.4 1168.8,659.4 1169.5,660.0 1170.2,661.8 1171.0,663.2 1171.8,663.1 1172.5,662.6 1173.2,663.4 1174.0,664.1 1174.8,663.3 1175.5,661.2 1176.2,659.9 1177.0,661.2 1177.8,664.0 1178.5,666.0 1179.2,665.7 1180.0,663.7 1180.8,662.0 1181.5,661.6 1182.2,661.9 1183.0,662.0 1183.8,661.8 1184.5,662.1 1185.2,663.3 1186.0,664.8 1186.8,665.5 1187.5,664.7 1188.2,663.1 1189.0,661.8 1189.8,661.6 1190.5,662.7 1191.2,664.3 1192.0,665.4 1192.8,665.5 1193.5,664.4 1194.2,662.9 1195.0,661.6 1195.8,661.5 1196.5,662.6 1197.2,663.6 1198.0,663.9 1198.8,663.8 1199.5,663.5 1200.2,663.2 1201.0,662.5 1201.8,662.1 1202.5,662.0 1203.2,662.3 1204.0,662.7 1204.8,661.9 1205.5,660.5 1206.2,660.3 1207.0,661.7 1207.8,663.2 1208.5,663.5 1209.2,664.1 1210.0,664.7 1210.8,664.4 1211.5,663.2 1212.2,661.7 1213.0,660.5 1213.8,660.0 1214.5,659.9 1215.2,659.6 1216.0,658.9 1216.8,658.7 1217.5,659.3 1218.2,659.3 1219.0,657.9 1219.8,656.4 1220.5,655.8 1221.2,655.9 1222.0,656.1 1222.8,656.3 1223.5,655.4 1224.2,653.3 1225.0,651.0 1225.8,650.2 1226.5,650.6 1227.2,650.5 1228.0,649.4 1228.8,648.0 1229.5,646.9 1230.2,645.9 1231.0,645.4 1231.8,645.6 1232.5,645.8 1233.2,645.2 1234.0,644.0 1234.8,643.0 1235.5,643.1 1236.2,644.0 1237.0,644.6 1237.8,644.7 1238.5,644.8 1239.2,644.8 1240.0,644.7 1240.8,645.4 1241.5,647.2 1242.2,649.0 1243.0,650.1 1243.8,651.1 1244.5,652.4 1245.2,654.0 1246.0,655.8 1246.8,656.9 1247.5,656.4 1248.2,655.4 1249.0,655.7 1249.8,656.5 1250.5,656.8 1251.2,656.9 1252.0,657.9 1252.8,658.9 1253.5,658.9 1254.2,659.0 1255.0,659.8 1255.8,660.2 1256.5,659.4 1257.2,657.9 1258.0,657.1 1258.8,657.7 1259.5,659.5 1260.2,660.2 1261.0,659.0 1261.8,657.0 1262.5,655.7 1263.2,655.6 1264.0,655.9 1264.8,656.3 1265.5,656.7 1266.2,656.7 1267.0,656.4 1267.8,655.8 1268.5,655.0 1269.2,653.4 1270.0,651.4 1270.8,650.1 1271.5,650.1 1272.2,650.6 1273.0,649.9 1273.8,648.3 1274.5,647.5 1275.2,648.2 1276.0,649.4 1276.8,649.6 1277.5,649.6 1278.2,650.4 1279.0,651.0 1279.8,650.7 1280.5,649.5 1281.2,648.9 1282.0,650.1 1282.8,652.0 1283.5,653.2 1284.2,653.5 1285.0,653.8 1285.8,654.4 1286.5,654.9 1287.2,655.3 1288.0,655.6 1288.8,655.6 1289.5,656.0 1290.2,656.9 1291.0,657.9 1291.8,658.7 1292.5,659.5 1293.2,659.9 1294.0,660.0 1294.8,660.6 1295.5,661.7 1296.2,662.1 1297.0,662.1 1297.8,662.3 1298.5,662.8 1299.2,662.8 1300.0,662.4 1300.8,662.1 1301.5,661.9 1302.2,661.8 1303.0,661.7 1303.8,661.6 1304.5,661.7 1305.2,662.1 1306.0,663.0 1306.8,663.9 1307.5,664.0 1308.2,663.4 1309.0,662.3 1309.8,661.3 1310.5,661.2 1311.2,662.2 1312.0,663.6 1312.8,664.5 1313.5,664.1 1314.2,663.0 1315.0,662.0 1315.8,661.8 1316.5,662.3 1317.2,663.0 1318.0,663.3 1318.8,663.5 1319.5,663.6 1320.2,663.4 1321.0,663.1 1321.8,662.3 1322.5,661.4 1323.2,662.0 1324.0,664.2 1324.8,666.7 1325.5,667.9 1326.2,667.0 1327.0,664.9 1327.8,662.7 1328.5,662.1 1329.2,662.8 1330.0,663.3 1330.8,663.1 1331.5,662.6 1332.2,662.4 1333.0,662.3 1333.8,662.8 1334.5,663.4 1335.2,664.1 1336.0,664.8 1336.8,665.0 1337.5,664.9 1338.2,664.3 1339.0,663.2 1339.8,662.1 1340.5,661.0 1341.2,660.1 1342.0,660.2 1342.8,661.1 1343.5,662.0 1344.2,662.1 1345.0,661.8 1345.8,662.1 1346.5,662.7 1347.2,662.9 1348.0,662.8 1348.8,662.8 1349.5,663.1 1350.2,662.9 1351.0,660.8 1351.8,657.9 1352.5,655.9 1353.2,655.3 1354.0,654.9 1354.8,654.2 1355.5,653.6 1356.2,653.4 1357.0,652.5 1357.8,650.6 1358.5,648.6 1359.2,647.5 1360.0,646.5 1360.8,644.4 1361.5,642.0 1362.2,641.1 1363.0,641.6 1363.8,641.6 1364.5,640.5 1365.2,638.7 1366.0,637.9 1366.8,638.3 1367.5,639.2 1368.2,639.7 1369.0,640.2 1369.8,641.9 1370.5,644.4 1371.2,646.2 1372.0,646.5 1372.8,647.0 1373.5,649.0 1374.2,651.4 1375.0,653.1 1375.8,654.2 1376.5,655.3 1377.2,655.8 1378.0,655.8 1378.8,656.5 1379.5,658.3 1380.2,659.7 1381.0,660.1 1381.8,660.1 1382.5,659.9 1383.2,659.6 1384.0,659.0 1384.8,658.6 1385.5,658.8 1386.2,659.3 1387.0,659.5 1387.8,659.6 1388.5,660.0 1389.2,660.7 1390.0,661.0 1390.8,660.8 1391.5,660.5 1392.2,660.2 1393.0,660.2 1393.8,660.2 1394.5,660.8 1395.2,661.0 1396.0,660.4 1396.8,659.9 1397.5,659.8 1398.2,660.2 1399.0,660.4 1399.8,660.3 1400.5,660.2 1401.2,660.1 1402.0,660.5 1402.8,661.3 1403.5,661.6 1404.2,661.2 1405.0,661.0 1405.8,661.0 1406.5,659.8 1407.2,656.8 1408.0,653.5 1408.8,651.4 1409.5,649.6 1410.2,646.4 1411.0,642.1 1411.8,638.5 1412.5,636.5 1413.2,635.6 1414.0,634.6 1414.8,633.9 1415.5,634.4 1416.2,636.3 1417.0,639.6 1417.8,643.5 1418.5,646.5 1419.2,648.8 1420.0,651.2 1420.8,653.8 1421.5,655.2 1422.2,654.9 1423.0,654.5 1423.8,655.4 1424.5,657.0 1425.2,658.0 1426.0,658.1 1426.8,657.7 1427.5,657.7 1428.2,657.9 1429.0,658.4 1429.8,659.0 1430.5,659.9 1431.2,660.7 1432.0,660.7 1432.8,659.7 1433.5,658.3 1434.2,657.6 1435.0,657.9 1435.8,658.1 1436.5,657.9 1437.2,657.5 1438.0,657.4 1438.8,657.5 1439.5,657.4 1440.2,657.4 1441.0,656.5 1441.8,654.9 1442.5,653.5 1443.2,652.6 1444.0,651.0 1444.8,649.2 1445.5,648.5 1446.2,648.6 1447.0,648.2 1447.8,646.5 1448.5,643.8 1449.2,640.7 1450.0,638.0 1450.8,636.1 1451.5,634.4 1452.2,632.5 1453.0,630.0 1453.8,626.6 1454.5,622.9 1455.2,620.5 1456.0,619.7 1456.8,619.8 1457.5,620.5 1458.2,621.7 1459.0,623.1 1459.8,624.4 1460.5,626.1 1461.2,628.3 1462.0,630.4 1462.8,632.4 1463.5,635.0 1464.2,638.7 1465.0,643.2 1465.8,647.4 1466.5,650.2 1467.2,651.6 1468.0,651.9 1468.8,652.2 1469.5,652.8 1470.2,654.0 1471.0,655.4 1471.8,656.9 1472.5,658.2 1473.2,658.5 1474.0,657.7 1474.8,657.0 1475.5,657.1 1476.2,658.3 1477.0,659.3 1477.8,659.5 1478.5,659.2 1479.2,658.8 1480.0,658.6 1480.8,658.7 1481.5,659.3 1482.2,660.5 1483.0,661.5 1483.8,661.8 1484.5,661.2 1485.2,659.2 1486.0,656.6 1486.8,655.4 1487.5,656.1 1488.2,656.7 1489.0,655.2 1489.8,653.0 1490.5,651.6 1491.2,651.1 1492.0,650.7 1492.8,650.9 1493.5,652.2 1494.2,654.3 1495.0,656.4 1495.8,657.2 1496.5,656.5 1497.2,655.7 1498.0,656.2 1498.8,657.5 1499.5,658.5 1500.2,658.3 1501.0,657.1 1501.8,655.6 1502.5,654.4 1503.2,653.9 1504.0,654.3 1504.8,655.4 1505.5,656.0 1506.2,655.2 1507.0,653.1 1507.8,650.4 1508.5,647.4 1509.2,644.3 1510.0,640.7 1510.8,636.0 1511.5,629.6 1512.2,622.1 1513.0,614.4 1513.8,605.8 1514.5,596.2 1515.2,586.5 1516.0,578.6 1516.8,573.6 1517.5,570.8 1518.2,569.9 1519.0,570.1 1519.8,572.0 1520.5,575.0 1521.2,577.9 1522.0,580.7 1522.8,584.4 1523.5,588.8 1524.2,593.4 1525.0,597.7 1525.8,601.4 1526.5,604.5 1527.2,606.5 1528.0,607.6 1528.8,608.3 1529.5,609.2 1530.2,611.4 1531.0,614.6 1531.8,617.8 1532.5,620.0 1533.2,620.9 1534.0,621.5 1534.8,622.3 1535.5,623.6 1536.2,625.0 1537.0,626.1 1537.8,627.5 1538.5,630.0 1539.2,632.8 1540.0,634.5 1540.8,635.0 1541.5,635.7 1542.2,637.2 1543.0,639.3 1543.8,642.0 1544.5,644.5 1545.2,646.5 1546.0,647.3 1546.8,647.6 1547.5,648.4 1548.2,649.9 1549.0,651.6 1549.8,652.7 1550.5,652.7 1551.2,652.4 1552.0,652.9 1552.8,653.6 1553.5,654.6 1554.2,656.0 1555.0,657.8 1555.8,658.7 1556.5,658.7 1557.2,658.9 1558.0,659.5 1558.8,659.9 1559.5,660.2 1560.2,660.4 1561.0,660.0 1561.8,659.0 1562.5,658.3 1563.2,658.3 1564.0,659.5 1564.8,660.7 1565.5,661.4 1566.2,661.3 1567.0,661.1 1567.8,661.1 1568.5,661.2 1569.2,661.1 1570.0,660.6 1570.8,660.3 1571.5,661.0 1572.2,661.8 1573.0,662.1 1573.8,661.8 1574.5,661.4 1575.2,661.2 1576.0,661.6 1576.8,662.5 1577.5,663.0 1578.2,662.1 1579.0,661.2 1579.8,661.2 1580.5,661.7 1581.2,661.5 1582.0,660.6 1582.8,660.1 1583.5,660.0 1584.2,660.1 1585.0,660.6 1585.8,661.9 1586.5,663.2 1587.2,663.7 1588.0,663.3 1588.8,663.0 1589.5,662.7 1590.2,662.4 1591.0,661.8 1591.8,661.4 1592.5,661.5 1593.2,662.0 1594.0,662.8 1594.8,663.0 1595.5,662.3 1596.2,661.4 1597.0,661.4 1597.8,662.0 1598.5,662.0 1599.2,661.2 1600.0,660.4 1600.8,660.6 1601.5,661.4 1602.2,662.0 1603.0,662.0 1603.8,662.1 1604.5,662.1 1605.2,661.9 1606.0,661.9 1606.8,662.0 1607.5,661.9 1608.2,661.9 1609.0,661.5 1609.8,660.8 1610.5,660.7 1611.2,661.9 1612.0,662.6 1612.8,662.1 1613.5,662.0 1614.2,662.8 1615.0,662.5 1615.8,660.6 1616.5,659.2 1617.2,660.1 1618.0,662.1 1618.8,663.3 1619.5,663.5 1620.2,663.3 1621.0,663.1 1621.8,662.8 1622.5,662.3 1623.2,661.9 1624.0,662.1 1624.8,662.3 1625.5,662.5 1626.2,662.4 1627.0,662.2 1627.8,662.1 1628.5,661.8 1629.2,661.4 1630.0,661.5 1630.8,662.6 1631.5,663.8 1632.2,663.7 1633.0,662.2 1633.8,661.0 1634.5,660.9 1635.2,661.1 1636.0,660.9 1636.8,660.9 1637.5,661.3 1638.2,661.6 1639.0,661.4 1639.8,660.6 1640.5,659.8 1641.2,659.8 1642.0,660.3 1642.8,660.7 1643.5,660.6 1644.2,661.0 1645.0,661.7 1645.8,661.6 1646.5,661.2 1647.2,660.7 1648.0,660.6 1648.8,661.0 1649.5,662.2 1650.2,663.8 1651.0,664.2 1651.8,663.3 1652.5,662.5 1653.2,662.8 1654.0,663.7 1654.8,663.9 1655.5,663.6 1656.2,662.9 1657.0,662.5 1657.8,662.5 1658.5,662.5 1659.2,662.6 1660.0,662.8 1660.8,663.4 1661.5,664.6 1662.2,665.3 1663.0,664.7 1663.8,663.2 1664.5,661.8 1665.2,661.3 1666.0,661.7 1666.8,662.5 1667.5,662.9 1668.2,662.3 1669.0,661.5 1669.8,661.3 1670.5,661.4 1671.2,661.3 1672.0,661.1 1672.8,661.1 1673.5,661.1 1674.2,662.0 1675.0,663.6 1675.8,664.6 1676.5,664.9 1677.2,664.7 1678.0,664.8 1678.8,664.9 1679.5,665.1 1680.2,665.8 1681.0,666.7 1681.8,667.5 1682.5,667.7 1683.2,667.2 1684.0,666.0 1684.8,664.8 1685.5,664.5 1686.2,665.4 1687.0,666.3 1687.8,665.5 1688.5,663.7 1689.2,662.5 1690.0,662.3 1690.8,662.5 1691.5,662.5 1692.2,662.3 1693.0,661.5 1693.8,660.7 1694.5,661.2 1695.2,662.4 1696.0,663.7 1696.8,664.3 1697.5,663.2 1698.2,661.6 1699.0,660.3 1699.8,660.1 1700.5,660.5 1701.2,660.9 1702.0,661.4 1702.8,661.5 1703.5,661.5 1704.2,661.9 1705.0,662.4 1705.8,662.4 1706.5,661.6 1707.2,660.6 1708.0,660.1 1708.8,660.5 1709.5,661.5 1710.2,662.3 1711.0,663.0 1711.8,663.4 1712.5,663.2 1713.2,662.5 1714.0,662.3 1714.8,662.3 1715.5,661.9 1716.2,661.7 1717.0,661.7 1717.8,661.4 1718.5,660.8 1719.2,660.6 1720.0,661.0 1720.8,661.0 1721.5,660.9 1722.2,661.8 1723.0,662.2 1723.8,661.8 1724.5,661.2 1725.2,661.0 1726.0,660.8 1726.8,659.7 1727.5,658.7 1728.2,658.5 1729.0,658.0 1729.8,657.4 1730.5,657.5 1731.2,659.0 1732.0,660.4 1732.8,660.6 1733.5,660.3 1734.2,659.5 1735.0,658.3 1735.8,657.9 1736.5,659.1 1737.2,661.0 1738.0,662.4 1738.8,662.6 1739.5,661.6 1740.2,660.4 1741.0,659.9 1741.8,660.0 1742.5,659.4 1743.2,658.0 1744.0,656.8 1744.8,656.2 1745.5,656.4 1746.2,656.7 1747.0,657.2 1747.8,657.1 1748.5,656.3 1749.2,654.5 1750.0,651.9 1750.8,649.8 1751.5,648.6 1752.2,647.9 1753.0,646.0 1753.8,643.0 1754.5,640.3 1755.2,638.2 1756.0,635.6 1756.8,632.2 1757.5,629.2 1758.2,627.3 1759.0,626.3 1759.8,626.3 1760.5,626.2 1761.2,625.1 1762.0,624.0 1762.8,624.5 1763.5,626.9 1764.2,628.4 1765.0,628.0 1765.8,627.6 1766.5,628.6 1767.2,630.3 1768.0,631.4 1768.8,632.3 1769.5,633.8 1770.2,635.4 1771.0,636.7 1771.8,637.9 1772.5,638.8 1773.2,639.4 1774.0,640.3 1774.8,641.6 1775.5,643.1 1776.2,644.5 1777.0,645.8 1777.8,647.1 1778.5,648.4 1779.2,649.7 1780.0,650.4 1780.8,650.4 1781.5,650.5 1782.2,650.7 1783.0,651.4 1783.8,652.8 1784.5,654.8 1785.2,656.1 1786.0,655.2 1786.8,653.1 1787.5,651.8 1788.2,652.6 1789.0,654.1 1789.8,654.5 1790.5,654.1 1791.2,653.5 1792.0,653.1 1792.8,652.8 1793.5,653.1 1794.2,653.8 1795.0,653.6 1795.8,652.7 1796.5,651.9 1797.2,651.4 1798.0,651.4 1798.8,652.0 1799.5,652.8 1800.2,653.4 1801.0,653.4 1801.8,653.2 1802.5,652.7 1803.2,652.1 1804.0,651.9 1804.8,652.5 1805.5,652.9 1806.2,652.8 1807.0,653.1 1807.8,653.2 1808.5,652.2 1809.2,651.1 1810.0,651.3 1810.8,652.4 1811.5,653.1 1812.2,653.2 1813.0,652.6 1813.8,651.4 1814.5,650.1 1815.2,649.6 1816.0,649.6 1816.8,649.4 1817.5,649.3 1818.2,649.8 1819.0,650.7 1819.8,650.7 1820.5,649.9 1821.2,649.3 1822.0,649.3 1822.8,649.8 1823.5,650.2 1824.2,650.2 1825.0,649.6 1825.8,648.3 1826.5,646.7 1827.2,645.5 1828.0,645.3 1828.8,646.5 1829.5,647.7 1830.2,648.6 1831.0,649.4 1831.8,650.1 1832.5,650.1 1833.2,649.5 1834.0,649.1 1834.8,649.3 1835.5,649.1 1836.2,647.9 1837.0,645.9 1837.8,643.7 1838.5,641.6 1839.2,640.1 1840.0,639.3 1840.8,639.0 1841.5,638.9 1842.2,638.1 1843.0,636.6 1843.8,634.7 1844.5,633.4 1845.2,632.5 1846.0,631.4 1846.8,629.8 1847.5,628.0 1848.2,625.9 1849.0,623.6 1849.8,621.1 1850.5,618.2 1851.2,615.0 1852.0,612.0 1852.8,610.0 1853.5,609.0 1854.2,607.6 1855.0,605.1 1855.8,602.3 1856.5,600.0 1857.2,598.1 1858.0,596.9 1858.8,596.7 1859.5,597.3 1860.2,598.6 1861.0,600.4 1861.8,602.2 1862.5,603.3 1863.2,604.0 1864.0,605.8 1864.8,609.0 1865.5,612.1 1866.2,614.7 1867.0,617.0 1867.8,619.9 1868.5,622.8 1869.2,624.6 1870.0,625.4 1870.8,626.1 1871.5,627.7 1872.2,630.5 1873.0,633.9 1873.8,636.7 1874.5,638.5 1875.2,639.8 1876.0,640.5 1876.8,640.8 1877.5,641.0 1878.2,641.9 1879.0,643.3 1879.8,644.6 1880.5,646.0 1881.2,647.5 1882.0,648.3 1882.8,648.5 1883.5,649.0 1884.2,650.6 1885.0,652.4 1885.8,653.2 1886.5,653.2 1887.2,653.4 1888.0,654.0 1888.8,653.9 1889.5,653.2 1890.2,652.8 1891.0,653.5 1891.8,655.3 1892.5,657.0 1893.2,658.5 1894.0,659.1 1894.8,658.2 1895.5,657.3 1896.2,657.2 1897.0,657.8 1897.8,657.9 1898.5,657.5 1899.2,657.6 1900.0,657.7 1900.8,657.1 1901.5,656.3 1902.2,656.8 1903.0,658.2 1903.8,659.6 1904.5,660.4 1905.2,660.6 1906.0,660.4 1906.8,660.4 1907.5,661.3 1908.2,662.5 1909.0,662.8 1909.8,662.0 1910.5,660.6 1911.2,659.8 1912.0,660.3 1912.8,661.9 1913.5,662.7 1914.2,661.9 1915.0,661.0 1915.8,661.4 1916.5,662.8 1917.2,663.4 1918.0,662.7 1918.8,661.8 1919.5,662.0 1920.2,663.3 1921.0,663.9 1921.8,663.1 1922.5,661.5 1923.2,659.8 1924.0,658.7 1924.8,658.2 1925.5,658.5 1926.2,659.2 1927.0,660.1 1927.8,661.3 1928.5,662.3 1929.2,662.4 1930.0,661.2 1930.8,659.6 1931.5,659.1 1932.2,659.7 1933.0,660.0 1933.8,659.4 1934.5,658.8 1935.2,659.3 1936.0,660.2 1936.8,660.4 1937.5,659.8 1938.2,659.3 1939.0,658.5 1939.8,657.1 1940.5,655.7 1941.2,655.5 1942.0,656.2 1942.8,656.1 1943.5,655.3 1944.2,654.8 1945.0,654.8 1945.8,654.2 1946.5,652.7 1947.2,651.3 1948.0,651.3 1948.8,652.3 1949.5,653.3 1950.2,653.7 1951.0,653.1 1951.8,652.0 1952.5,650.9 1953.2,649.7 1954.0,648.7 1954.8,648.0 1955.5,647.0 1956.2,645.9 1957.0,644.5 1957.8,643.5 1958.5,643.1 1959.2,643.5 1960.0,644.4 1960.8,644.8 1961.5,645.1 1962.2,645.9 1963.0,646.3 1963.8,645.8 1964.5,644.9 1965.2,645.0 1966.0,646.1 1966.8,646.8 1967.5,646.6 1968.2,646.0 1969.0,645.6 1969.8,646.1 1970.5,647.3 1971.2,647.8 1972.0,647.4 1972.8,647.4 1973.5,648.7 1974.2,650.8 1975.0,652.2 1975.8,652.7 1976.5,652.6 1977.2,652.5 1978.0,652.7 1978.8,653.2 1979.5,653.9 1980.2,654.9 1981.0,655.2 1981.8,654.5 1982.5,653.7 1983.2,654.3 1984.0,655.8 1984.8,657.4 1985.5,658.1 1986.2,658.0 1987.0,657.4 1987.8,656.7 1988.5,656.7 1989.2,657.8 1990.0,659.7 1990.8,660.7 1991.5,660.1 1992.2,658.7 1993.0,657.8 1993.8,657.2 1994.5,656.7 1995.2,657.2 1996.0,658.6 1996.8,660.0 1997.5,660.4 1998.2,660.3 1999.0,660.0 1999.8,659.4 2000.5,659.0 2001.2,659.0 2002.0,659.2 2002.8,659.2 2003.5,658.5 2004.2,658.1 2005.0,658.2 2005.8,658.8 2006.5,658.9 2007.2,658.9 2008.0,659.5 2008.8,660.4 2009.5,661.0 2010.2,661.0 2011.0,660.4 2011.8,659.4 2012.5,658.1 2013.2,657.6 2014.0,658.6 2014.8,659.8 2015.5,660.1 2016.2,659.8 2017.0,659.8 2017.8,660.4 2018.5,660.7 2019.2,660.4 2020.0,660.2 2020.8,660.1 2021.5,660.2 2022.2,660.2 2023.0,659.5 2023.8,658.6 2024.5,658.5 2025.2,659.7 2026.0,661.5 2026.8,662.1 2027.5,661.3 2028.2,660.6 2029.0,660.4 2029.8,660.8 2030.5,661.4 2031.2,661.4 2032.0,660.8 2032.8,660.3 2033.5,660.0 2034.2,659.7 2035.0,659.3 2035.8,659.1 2036.5,658.8 2037.2,658.2 2038.0,658.2 2038.8,658.6 2039.5,658.9 2040.2,658.6 2041.0,658.1 2041.8,657.5 2042.5,656.7 2043.2,656.0 2044.0,655.4 2044.8,654.8 2045.5,654.0 2046.2,653.9 2047.0,654.6 2047.8,655.3 2048.5,655.1 2049.2,654.0 2050.0,652.6 2050.8,651.6 2051.5,651.5 2052.2,651.1 2053.0,650.0 2053.8,648.9 2054.5,648.7 2055.2,648.4 2056.0,647.1 2056.8,646.3 2057.5,647.2 2058.2,648.5 2059.0,649.5 2059.8,649.9 2060.5,650.1 2061.2,649.9 2062.0,649.8 2062.8,650.9 2063.5,652.2 2064.2,652.2 2065.0,651.5 2065.8,650.9 2066.5,651.3 2067.2,652.0 2068.0,652.3 2068.8,652.6 2069.5,653.6 2070.2,655.1 2071.0,655.7 2071.8,655.1 2072.5,654.3 2073.2,654.2 2074.0,655.3 2074.8,657.2 2075.5,658.9 2076.2,659.7 2077.0,659.2 2077.8,657.8 2078.5,656.7 2079.2,656.4 2080.0,657.4 2080.8,658.4 2081.5,659.4 2082.2,661.3 2083.0,663.0 2083.8,662.8 2084.5,661.5 2085.2,661.0 2086.0,661.2 2086.8,661.3 2087.5,661.4 2088.2,661.7 2089.0,661.7 2089.8,661.4 2090.5,661.7 2091.2,662.3 2092.0,661.4 2092.8,659.4 2093.5,658.4 2094.2,659.4 2095.0,661.0 2095.8,661.2 2096.5,660.5 2097.2,659.9 2098.0,659.7 2098.8,659.8 2099.5,659.8 2100.2,659.6 2101.0,659.1 2101.8,659.3 2102.5,660.3 2103.2,661.0 2104.0,660.9 2104.8,660.6 2105.5,660.6 2106.2,660.5 2107.0,660.4 2107.8,661.2 2108.5,662.3 2109.2,662.0 2110.0,660.3 2110.8,659.3 2111.5,660.0 2112.2,660.7 2113.0,660.8 2113.8,660.3 2114.5,659.6 2115.2,659.1 2116.0,659.7 2116.8,661.5 2117.5,662.4 2118.2,661.7 2119.0,660.9 2119.8,662.0 2120.5,664.0 2121.2,665.3 2122.0,665.4 2122.8,664.3 2123.5,663.4 2124.2,663.8 2125.0,665.0 2125.8,665.0 2126.5,662.9 2127.2,660.7 2128.0,659.7 2128.8,659.1 2129.5,658.6 2130.2,659.0 2131.0,660.7 2131.8,662.3 2132.5,662.5 2133.2,662.0 2134.0,661.6 2134.8,661.5 2135.5,662.0 2136.2,662.5 2137.0,662.3 2137.8,661.6 2138.5,662.0 2139.2,663.5 2140.0,664.9 2140.8,665.0 2141.5,664.3 2142.2,663.7 2143.0,663.6 2143.8,663.8 2144.5,663.8 2145.2,664.2 2146.0,665.3 2146.8,666.8 2147.5,667.3 2148.2,666.2 2149.0,664.8 2149.8,664.2 2150.5,664.3 2151.2,664.6 2152.0,664.2 2152.8,663.5 2153.5,663.0 2154.2,662.7 2155.0,662.5 2155.8,662.1 2156.5,661.8 2157.2,662.2 2158.0,662.9 2158.8,663.3 2159.5,663.3 2160.2,663.3 2161.0,663.8 2161.8,664.6 2162.5,664.7 2163.2,664.3 2164.0,663.8 2164.8,663.6 2165.5,663.1 2166.2,662.0 2167.0,661.7 2167.8,662.0 2168.5,662.2 2169.2,661.9 2170.0,661.7 2170.8,662.4 2171.5,662.8 2172.2,662.2 2173.0,661.0 2173.8,660.1 2174.5,660.5 2175.2,661.9 2176.0,663.6 2176.8,664.3 2177.5,663.9 2178.2,663.3 2179.0,663.0 2179.8,663.1 2180.5,663.6 2181.2,664.0 2182.0,663.8 2182.8,662.8 2183.5,661.9 2184.2,662.2 2185.0,663.8 2185.8,665.7 2186.5,666.4 2187.2,666.2 2188.0,665.3 2188.8,664.1 2189.5,662.9 2190.2,662.1 2191.0,662.5 2191.8,663.7 2192.5,664.7 2193.2,664.6 2194.0,663.4 2194.8,662.2 2195.5,662.2 2196.2,663.6 2197.0,664.8 2197.8,664.7 2198.5,663.7 2199.2,662.9 2200.0,663.0 2200.8,663.3 2201.5,663.5 2202.2,663.2 2203.0,662.8 2203.8,663.0 2204.5,663.9 2205.2,664.7 2206.0,664.4 2206.8,663.4 2207.5,662.6 2208.2,662.1 2209.0,661.9 2209.8,662.0 2210.5,663.1 2211.2,664.3 2212.0,664.4 2212.8,663.4 2213.5,662.7 2214.2,662.8 2215.0,662.7 2215.8,662.6 2216.5,662.3 2217.2,661.9 2218.0,661.1 2218.8,660.4 2219.5,660.0 2220.2,660.1 2221.0,661.3 2221.8,663.2 2222.5,664.6 2223.2,664.7 2224.0,663.9 2224.8,663.5 2225.5,664.0 2226.2,665.0 2227.0,666.0 2227.8,665.9 2228.5,665.2 2229.2,664.2 2230.0,664.1 2230.8,664.4 2231.5,664.3 2232.2,664.2 2233.0,664.8 2233.8,666.1 2234.5,666.5 2235.2,665.8 2236.0,665.4 2236.8,665.6 2237.5,665.8 2238.2,665.7 2239.0,664.5 2239.8,662.7 2240.5,661.6 2241.2,661.9 2242.0,662.7 2242.8,662.9 2243.5,662.4 2244.2,662.3 2245.0,662.9 2245.8,664.5 2246.5,666.2 2247.2,666.6 2248.0,665.4 2248.8,663.8 2249.5,662.8 2250.2,662.8 2251.0,663.3 2251.8,664.0 2252.5,664.5 2253.2,663.8 2254.0,662.6 2254.8,662.6 2255.5,663.9 2256.2,665.2 2257.0,665.0 2257.8,664.4 2258.5,664.2 2259.2,664.3 2260.0,664.2 2260.8,663.3 2261.5,662.1 2262.2,661.2 2263.0,661.4 2263.8,662.5 2264.5,663.2 2265.2,662.8 2266.0,662.0 2266.8,661.5 2267.5,661.1 2268.2,660.3 2269.0,660.0 2269.8,660.8 2270.5,661.8 2271.2,662.0 2272.0,661.8 2272.8,661.7 2273.5,661.0 2274.2,659.9 2275.0,659.2 2275.8,659.1 2276.5,659.0 2277.2,658.8 2278.0,658.9 2278.8,659.0 2279.5,658.3 2280.2,656.7 2281.0,654.8 2281.8,653.9 2282.5,654.6 2283.2,655.8 2284.0,656.2 2284.8,655.0 2285.5,653.4 2286.2,652.7 2287.0,652.8 2287.8,652.5 2288.5,651.2 2289.2,649.8 2290.0,649.6 2290.8,649.9 2291.5,649.8 2292.2,649.0 2293.0,648.6 2293.8,649.4 2294.5,651.2 2295.2,653.4 2296.0,654.6 2296.8,654.3 2297.5,653.5 2298.2,653.0 2299.0,653.8 2299.8,655.0 2300.5,655.9 2301.2,655.9 2302.0,655.5 2302.8,655.7 2303.5,656.6 2304.2,658.0 2305.0,659.2 2305.8,659.8 2306.5,659.8 2307.2,659.7 2308.0,659.8 2308.8,659.8 2309.5,659.4 2310.2,658.6 2311.0,657.6 2311.8,657.2 2312.5,657.4 2313.2,658.2 2314.0,658.9 2314.8,659.2 2315.5,658.9 2316.2,658.6 2317.0,659.0 2317.8,660.4 2318.5,662.4 2319.2,663.5 2320.0,663.4"/>
<polyline fill="none" stroke="#000" stroke-width="7" stroke-linejoin="round" stroke-linecap="butt" points="187.0,1349.7 187.8,1351.0 188.5,1353.6 189.2,1355.5 190.0,1355.5 190.8,1354.2 191.5,1353.1 192.2,1352.7 193.0,1352.7 193.8,1353.2 194.5,1353.6 195.2,1353.8 196.0,1353.3 196.8,1353.0 197.5,1353.1 198.2,1353.1 199.0,1352.5 199.8,1351.6 200.5,1351.9 201.2,1353.1 202.0,1353.6 202.8,1353.3 203.5,1352.8 204.2,1352.4 205.0,1352.3 205.8,1352.5 206.5,1353.1 207.2,1353.4 208.0,1352.5 208.8,1351.0 209.5,1350.2 210.2,1349.7 211.0,1349.6 211.8,1349.9 212.5,1350.8 213.2,1351.6 214.0,1351.3 214.8,1351.1 215.5,1351.9 216.2,1353.5 217.0,1354.6 217.8,1355.0 218.5,1354.8 219.2,1354.1 220.0,1353.2 220.8,1352.7 221.5,1352.8 222.2,1352.8 223.0,1352.1 223.8,1351.1 224.5,1350.3 225.2,1350.5 226.0,1351.1 226.8,1351.4 227.5,1351.0 228.2,1350.7 229.0,1351.0 229.8,1350.6 230.5,1350.2 231.2,1350.9 232.0,1352.0 232.8,1352.0 233.5,1351.2 234.2,1351.0 235.0,1351.9 235.8,1352.7 236.5,1352.5 237.2,1351.9 238.0,1351.4 238.8,1351.8 239.5,1352.2 240.2,1351.7 241.0,1350.8 241.8,1351.1 242.5,1352.5 243.2,1353.6 244.0,1353.8 244.8,1353.1 245.5,1352.0 246.2,1350.6 247.0,1350.1 247.8,1350.6 248.5,1350.9 249.2,1350.6 250.0,1350.5 250.8,1351.2 251.5,1351.8 252.2,1351.3 253.0,1350.0 253.8,1349.8 254.5,1351.2 255.2,1352.8 256.0,1353.1 256.8,1352.4 257.5,1351.7 258.2,1351.6 259.0,1351.7 259.8,1351.4 260.5,1351.2 261.2,1351.2 262.0,1351.7 262.8,1352.9 263.5,1354.6 264.2,1356.2 265.0,1356.4 265.8,1354.7 266.5,1352.9 267.2,1352.4 268.0,1352.8 268.8,1352.9 269.5,1353.1 270.2,1353.6 271.0,1353.2 271.8,1351.6 272.5,1350.2 273.2,1350.3 274.0,1351.6 274.8,1353.0 275.5,1353.5 276.2,1353.1 277.0,1352.9 277.8,1353.5 278.5,1354.3 279.2,1354.3 280.0,1353.1 280.8,1351.6 281.5,1350.9 282.2,1351.6 283.0,1352.3 283.8,1352.0 284.5,1350.9 285.2,1350.0 286.0,1349.4 286.8,1349.0 287.5,1349.5 288.2,1351.1 289.0,1351.9 289.8,1351.1 290.5,1349.3 291.2,1348.5 292.0,1349.3 292.8,1350.8 293.5,1351.7 294.2,1351.6 295.0,1351.1 295.8,1350.2 296.5,1349.0 297.2,1348.0 298.0,1347.7 298.8,1347.8 299.5,1347.6 300.2,1347.3 301.0,1347.7 301.8,1348.6 302.5,1349.4 303.2,1349.9 304.0,1350.5 304.8,1351.6 305.5,1352.2 306.2,1351.5 307.0,1350.5 307.8,1349.9 308.5,1350.2 309.2,1350.8 310.0,1351.5 310.8,1352.1 311.5,1352.1 312.2,1352.1 313.0,1351.9 313.8,1351.6 314.5,1351.5 315.2,1352.1 316.0,1353.3 316.8,1354.5 317.5,1355.2 318.2,1354.4 319.0,1352.6 319.8,1351.3 320.5,1350.9 321.2,1350.8 322.0,1350.5 322.8,1350.6 323.5,1351.1 324.2,1351.4 325.0,1351.2 325.8,1350.5 326.5,1349.6 327.2,1348.7 328.0,1348.4 328.8,1349.2 329.5,1350.4 330.2,1351.5 331.0,1352.0 331.8,1352.4 332.5,1352.5 333.2,1352.0 334.0,1350.9 334.8,1350.0 335.5,1349.8 336.2,1350.0 337.0,1350.7 337.8,1351.5 338.5,1352.2 339.2,1352.1 340.0,1351.1 340.8,1350.1 341.5,1349.5 342.2,1349.4 343.0,1349.4 343.8,1349.5 344.5,1349.6 345.2,1349.5 346.0,1349.2 346.8,1348.7 347.5,1348.5 348.2,1349.0 349.0,1350.4 349.8,1351.4 350.5,1351.0 351.2,1349.9 352.0,1349.0 352.8,1349.0 353.5,1348.9 354.2,1348.3 355.0,1347.2 355.8,1346.2 356.5,1345.9 357.2,1345.6 358.0,1344.6 358.8,1343.2 359.5,1341.5 360.2,1338.9 361.0,1335.4 361.8,1332.2 362.5,1330.6 363.2,1330.7 364.0,1331.5 364.8,1332.3 365.5,1333.4 366.2,1336.3 367.0,1340.6 367.8,1344.1 368.5,1346.0 369.2,1347.0 370.0,1348.3 370.8,1349.9 371.5,1350.6 372.2,1350.6 373.0,1350.3 373.8,1350.0 374.5,1349.7 375.2,1349.8 376.0,1350.0 376.8,1349.6 377.5,1348.5 378.2,1347.8 379.0,1348.4 379.8,1349.8 380.5,1351.3 381.2,1352.1 382.0,1352.2 382.8,1352.0 383.5,1351.8 384.2,1351.6 385.0,1351.5 385.8,1351.5 386.5,1351.7 387.2,1351.5 388.0,1350.8 388.8,1350.5 389.5,1350.9 390.2,1351.1 391.0,1350.3 391.8,1349.5 392.5,1349.4 393.2,1349.2 394.0,1349.2 394.8,1349.7 395.5,1350.5 396.2,1351.2 397.0,1351.4 397.8,1351.1 398.5,1350.0 399.2,1348.7 400.0,1348.3 400.8,1348.8 401.5,1349.6 402.2,1350.1 403.0,1350.1 403.8,1350.1 404.5,1349.4 405.2,1348.0 406.0,1347.2 406.8,1347.5 407.5,1348.2 408.2,1348.5 409.0,1348.9 409.8,1349.3 410.5,1349.2 411.2,1349.0 412.0,1349.8 412.8,1351.0 413.5,1352.1 414.2,1352.7 415.0,1352.5 415.8,1351.0 416.5,1349.2 417.2,1348.9 418.0,1349.9 418.8,1350.9 419.5,1351.0 420.2,1350.5 421.0,1349.9 421.8,1349.4 422.5,1348.8 423.2,1347.9 424.0,1347.0 424.8,1346.7 425.5,1346.8 426.2,1347.3 427.0,1348.1 427.8,1349.7 428.5,1351.6 429.2,1352.5 430.0,1351.8 430.8,1350.5 431.5,1349.5 432.2,1349.2 433.0,1348.6 433.8,1347.3 434.5,1345.5 435.2,1344.6 436.0,1345.3 436.8,1346.8 437.5,1347.1 438.2,1346.6 439.0,1346.5 439.8,1346.9 440.5,1347.6 441.2,1348.3 442.0,1348.9 442.8,1348.8 443.5,1348.3 444.2,1348.1 445.0,1348.0 445.8,1348.0 446.5,1348.6 447.2,1349.6 448.0,1349.5 448.8,1348.2 449.5,1347.1 450.2,1346.8 451.0,1347.0 451.8,1347.1 452.5,1347.3 453.2,1347.0 454.0,1345.6 454.8,1343.7 455.5,1342.9 456.2,1343.8 457.0,1344.9 457.8,1344.6 458.5,1343.4 459.2,1343.2 460.0,1343.3 460.8,1342.8 461.5,1341.6 462.2,1340.3 463.0,1338.4 463.8,1335.1 464.5,1330.8 465.2,1325.3 466.0,1317.8 466.8,1308.5 467.5,1298.4 468.2,1288.4 469.0,1278.2 469.8,1268.1 470.5,1258.9 471.2,1251.7 472.0,1246.8 472.8,1244.3 473.5,1244.9 474.2,1249.9 475.0,1258.9 475.8,1270.0 476.5,1281.1 477.2,1291.3 478.0,1300.7 478.8,1309.6 479.5,1318.2 480.2,1325.7 481.0,1330.9 481.8,1334.1 482.5,1337.1 483.2,1340.7 484.0,1343.6 484.8,1345.1 485.5,1345.9 486.2,1347.2 487.0,1348.2 487.8,1348.2 488.5,1347.8 489.2,1347.5 490.0,1346.9 490.8,1346.3 491.5,1346.3 492.2,1347.1 493.0,1347.7 493.8,1347.2 494.5,1346.7 495.2,1347.1 496.0,1348.0 496.8,1348.7 497.5,1349.1 498.2,1349.6 499.0,1349.5 499.8,1349.2 500.5,1349.6 501.2,1350.4 502.0,1350.4 502.8,1349.4 503.5,1348.5 504.2,1347.8 505.0,1346.7 505.8,1345.2 506.5,1344.2 507.2,1344.1 508.0,1344.5 508.8,1345.2 509.5,1346.0 510.2,1346.6 511.0,1346.4 511.8,1346.0 512.5,1345.5 513.2,1344.6 514.0,1343.9 514.8,1343.9 515.5,1344.2 516.2,1344.2 517.0,1344.0 517.8,1344.3 518.5,1345.1 519.2,1345.8 520.0,1346.2 520.8,1346.2 521.5,1345.6 522.2,1345.4 523.0,1346.2 523.8,1347.7 524.5,1348.6 525.2,1348.4 526.0,1347.7 526.8,1347.4 527.5,1347.6 528.2,1348.1 529.0,1348.2 529.8,1347.8 530.5,1347.0 531.2,1346.8 532.0,1348.0 532.8,1349.4 533.5,1349.4 534.2,1347.4 535.0,1345.0 535.8,1344.1 536.5,1344.5 537.2,1345.3 538.0,1345.8 538.8,1345.7 539.5,1346.0 540.2,1346.2 541.0,1346.7 541.8,1347.7 542.5,1348.4 543.2,1348.1 544.0,1346.9 544.8,1346.4 545.5,1346.7 546.2,1346.8 547.0,1346.2 547.8,1346.1 548.5,1346.8 549.2,1347.5 550.0,1348.4 550.8,1349.3 551.5,1349.9 552.2,1349.9 553.0,1349.5 553.8,1349.3 554.5,1348.6 555.2,1347.5 556.0,1346.6 556.8,1346.8 557.5,1347.8 558.2,1348.4 559.0,1348.3 559.8,1348.3 560.5,1348.7 561.2,1348.8 562.0,1348.2 562.8,1347.4 563.5,1346.9 564.2,1346.9 565.0,1347.1 565.8,1347.8 566.5,1348.7 567.2,1348.9 568.0,1348.2 568.8,1347.4 569.5,1347.0 570.2,1346.4 571.0,1345.4 571.8,1345.0 572.5,1345.3 573.2,1345.5 574.0,1344.8 574.8,1344.0 575.5,1344.2 576.2,1345.4 577.0,1346.2 577.8,1346.0 578.5,1345.2 579.2,1344.2 580.0,1343.4 580.8,1343.1 581.5,1343.4 582.2,1343.5 583.0,1343.2 583.8,1343.7 584.5,1344.9 585.2,1345.5 586.0,1345.2 586.8,1344.7 587.5,1344.4 588.2,1344.2 589.0,1344.1 589.8,1344.5 590.5,1345.1 591.2,1345.0 592.0,1344.4 592.8,1343.9 593.5,1343.7 594.2,1343.4 595.0,1342.7 595.8,1341.6 596.5,1341.0 597.2,1341.4 598.0,1342.1 598.8,1342.6 599.5,1342.2 600.2,1341.1 601.0,1340.4 601.8,1340.4 602.5,1339.9 603.2,1337.1 604.0,1332.3 604.8,1328.6 605.5,1327.0 606.2,1324.7 607.0,1319.7 607.8,1312.0 608.5,1302.1 609.2,1290.5 610.0,1277.2 610.8,1262.4 611.5,1246.1 612.2,1229.1 613.0,1213.4 613.8,1200.9 614.5,1193.8 615.2,1192.4 616.0,1195.3 616.8,1201.9 617.5,1213.1 618.2,1229.1 619.0,1247.5 619.8,1264.8 620.5,1279.2 621.2,1291.4 622.0,1302.2 622.8,1311.6 623.5,1319.1 624.2,1324.6 625.0,1328.9 625.8,1332.2 626.5,1334.5 627.2,1335.8 628.0,1336.0 628.8,1336.0 629.5,1336.3 630.2,1337.2 631.0,1337.7 631.8,1337.1 632.5,1335.3 633.2,1332.8 634.0,1330.7 634.8,1328.6 635.5,1325.4 636.2,1320.8 637.0,1314.5 637.8,1305.9 638.5,1295.1 639.2,1283.2 640.0,1270.6 640.8,1256.8 641.5,1243.1 642.2,1230.4 643.0,1219.2 643.8,1210.3 644.5,1205.6 645.2,1205.7 646.0,1209.4 646.8,1216.5 647.5,1227.3 648.2,1240.4 649.0,1254.0 649.8,1267.9 650.5,1281.7 651.2,1294.4 652.0,1305.3 652.8,1314.3 653.5,1321.4 654.2,1326.5 655.0,1330.9 655.8,1334.9 656.5,1338.0 657.2,1340.0 658.0,1340.8 658.8,1341.3 659.5,1341.7 660.2,1342.0 661.0,1342.4 661.8,1342.4 662.5,1342.2 663.2,1341.6 664.0,1341.2 664.8,1341.7 665.5,1342.6 666.2,1342.9 667.0,1342.4 667.8,1341.8 668.5,1340.9 669.2,1340.0 670.0,1339.5 670.8,1339.5 671.5,1339.7 672.2,1339.9 673.0,1340.3 673.8,1341.1 674.5,1342.3 675.2,1343.7 676.0,1344.6 676.8,1344.2 677.5,1343.0 678.2,1341.9 679.0,1341.1 679.8,1340.9 680.5,1341.3 681.2,1342.9 682.0,1345.2 682.8,1346.4 683.5,1345.9 684.2,1344.8 685.0,1344.1 685.8,1344.3 686.5,1344.7 687.2,1345.5 688.0,1346.8 688.8,1347.7 689.5,1347.9 690.2,1346.7 691.0,1345.2 691.8,1344.7 692.5,1345.1 693.2,1345.0 694.0,1343.8 694.8,1342.4 695.5,1342.3 696.2,1343.3 697.0,1344.1 697.8,1344.0 698.5,1343.2 699.2,1343.3 700.0,1344.4 700.8,1345.5 701.5,1345.2 702.2,1344.2 703.0,1343.9 703.8,1343.8 704.5,1343.6 705.2,1342.6 706.0,1341.3 706.8,1340.5 707.5,1340.6 708.2,1341.7 709.0,1343.0 709.8,1343.1 710.5,1342.1 711.2,1341.0 712.0,1341.2 712.8,1342.0 713.5,1341.8 714.2,1341.0 715.0,1341.3 715.8,1342.6 716.5,1343.2 717.2,1343.0 718.0,1342.5 718.8,1341.8 719.5,1341.7 720.2,1342.5 721.0,1343.8 721.8,1343.8 722.5,1342.8 723.2,1342.3 724.0,1342.3 724.8,1342.4 725.5,1342.3 726.2,1342.3 727.0,1342.4 727.8,1342.2 728.5,1342.0 729.2,1342.1 730.0,1342.8 730.8,1343.8 731.5,1344.5 732.2,1344.4 733.0,1343.6 733.8,1342.5 734.5,1342.2 735.2,1342.6 736.0,1343.0 736.8,1343.1 737.5,1342.8 738.2,1342.5 739.0,1342.5 739.8,1342.6 740.5,1343.1 741.2,1343.8 742.0,1344.0 742.8,1343.2 743.5,1341.9 744.2,1340.9 745.0,1340.3 745.8,1340.2 746.5,1340.5 747.2,1341.3 748.0,1342.5 748.8,1343.3 749.5,1343.3 750.2,1342.6 751.0,1341.7 751.8,1340.6 752.5,1339.7 753.2,1340.1 754.0,1341.7 754.8,1343.0 755.5,1343.2 756.2,1342.6 757.0,1342.0 757.8,1340.9 758.5,1339.3 759.2,1338.3 760.0,1338.9 760.8,1340.5 761.5,1341.3 762.2,1340.6 763.0,1339.4 763.8,1338.9 764.5,1338.9 765.2,1339.4 766.0,1340.5 766.8,1341.7 767.5,1341.8 768.2,1340.5 769.0,1339.1 769.8,1339.2 770.5,1340.1 771.2,1340.2 772.0,1339.2 772.8,1338.8 773.5,1339.2 774.2,1339.4 775.0,1338.9 775.8,1338.6 776.5,1338.5 777.2,1338.1 778.0,1336.6 778.8,1334.4 779.5,1333.3 780.2,1333.7 781.0,1335.4 781.8,1337.1 782.5,1338.1 783.2,1338.1 784.0,1338.1 784.8,1338.5 785.5,1338.8 786.2,1339.1 787.0,1339.3 787.8,1339.6 788.5,1339.6 789.2,1338.9 790.0,1338.0 790.8,1336.7 791.5,1335.3 792.2,1334.4 793.0,1334.2 793.8,1334.4 794.5,1334.2 795.2,1334.0 796.0,1334.7 796.8,1335.9 797.5,1336.6 798.2,1336.4 799.0,1335.9 799.8,1335.5 800.5,1334.0 801.2,1331.7 802.0,1330.0 802.8,1328.7 803.5,1327.3 804.2,1324.8 805.0,1322.5 805.8,1321.0 806.5,1320.1 807.2,1319.9 808.0,1319.1 808.8,1316.6 809.5,1312.9 810.2,1309.4 811.0,1306.8 811.8,1304.4 812.5,1301.4 813.2,1297.3 814.0,1291.8 814.8,1285.1 815.5,1277.4 816.2,1266.9 817.0,1252.2 817.8,1232.8 818.5,1209.0 819.2,1180.6 820.0,1147.3 820.8,1108.9 821.5,1065.0 822.2,1016.2 823.0,964.3 823.8,910.9 824.5,857.7 825.2,808.1 826.0,767.4 826.8,740.1 827.5,729.0 828.2,735.7 829.0,760.1 829.8,799.1 830.5,847.1 831.2,898.6 832.0,950.6 832.8,1002.6 833.5,1053.1 834.2,1099.0 835.0,1138.3 835.8,1170.6 836.5,1197.2 837.2,1219.3 838.0,1237.6 838.8,1251.6 839.5,1261.0 840.2,1267.2 841.0,1271.6 841.8,1274.7 842.5,1276.0 843.2,1275.6 844.0,1275.0 844.8,1274.9 845.5,1274.9 846.2,1274.5 847.0,1274.1 847.8,1275.5 848.5,1279.0 849.2,1283.1 850.0,1287.4 850.8,1292.7 851.5,1299.0 852.2,1304.9 853.0,1309.7 853.8,1314.0 854.5,1317.9 855.2,1321.2 856.0,1324.0 856.8,1326.5 857.5,1328.3 858.2,1329.2 859.0,1329.6 859.8,1329.6 860.5,1329.6 861.2,1330.1 862.0,1331.2 862.8,1332.3 863.5,1333.1 864.2,1334.3 865.0,1335.2 865.8,1335.3 866.5,1335.4 867.2,1336.1 868.0,1337.0 868.8,1337.9 869.5,1339.1 870.2,1340.1 871.0,1339.6 871.8,1338.3 872.5,1337.1 873.2,1335.7 874.0,1333.8 874.8,1332.7 875.5,1333.6 876.2,1335.9 877.0,1337.5 877.8,1337.3 878.5,1336.5 879.2,1336.5 880.0,1337.3 880.8,1338.0 881.5,1338.5 882.2,1339.4 883.0,1340.3 883.8,1341.0 884.5,1342.0 885.2,1342.7 886.0,1342.5 886.8,1342.2 887.5,1342.3 888.2,1342.4 889.0,1341.5 889.8,1340.5 890.5,1340.2 891.2,1340.4 892.0,1340.8 892.8,1340.8 893.5,1340.2 894.2,1339.6 895.0,1339.9 895.8,1340.6 896.5,1340.7 897.2,1340.2 898.0,1339.5 898.8,1339.0 899.5,1339.0 900.2,1339.8 901.0,1341.0 901.8,1341.3 902.5,1341.1 903.2,1341.6 904.0,1342.8 904.8,1343.1 905.5,1342.1 906.2,1341.1 907.0,1341.4 907.8,1341.8 908.5,1341.7 909.2,1341.4 910.0,1341.5 910.8,1341.9 911.5,1341.8 912.2,1341.1 913.0,1340.7 913.8,1340.9 914.5,1341.2 915.2,1341.5 916.0,1342.0 916.8,1342.2 917.5,1341.7 918.2,1340.6 919.0,1340.6 919.8,1341.5 920.5,1342.1 921.2,1341.8 922.0,1340.6 922.8,1339.4 923.5,1339.1 924.2,1339.8 925.0,1340.4 925.8,1340.9 926.5,1341.9 927.2,1342.8 928.0,1343.2 928.8,1343.2 929.5,1343.4 930.2,1342.7 931.0,1340.5 931.8,1338.7 932.5,1338.7 933.2,1339.4 934.0,1339.0 934.8,1338.1 935.5,1338.7 936.2,1340.4 937.0,1341.3 937.8,1341.3 938.5,1341.1 939.2,1341.2 940.0,1341.4 940.8,1342.1 941.5,1343.3 942.2,1344.2 943.0,1344.1 943.8,1343.1 944.5,1342.0 945.2,1340.9 946.0,1340.1 946.8,1339.9 947.5,1340.2 948.2,1340.5 949.0,1340.3 949.8,1339.9 950.5,1339.9 951.2,1340.1 952.0,1340.5 952.8,1340.4 953.5,1339.4 954.2,1338.2 955.0,1337.5 955.8,1338.1 956.5,1339.7 957.2,1340.9 958.0,1341.3 958.8,1341.4 959.5,1342.1 960.2,1343.1 961.0,1343.3 961.8,1342.6 962.5,1341.7 963.2,1341.1 964.0,1341.1 964.8,1341.1 965.5,1340.9 966.2,1339.7 967.0,1338.2 967.8,1337.0 968.5,1337.4 969.2,1339.4 970.0,1341.2 970.8,1340.9 971.5,1339.4 972.2,1338.9 973.0,1339.4 973.8,1339.7 974.5,1339.5 975.2,1339.6 976.0,1340.1 976.8,1340.1 977.5,1339.6 978.2,1338.7 979.0,1337.4 979.8,1336.3 980.5,1335.9 981.2,1336.0 982.0,1335.6 982.8,1334.6 983.5,1334.1 984.2,1334.8 985.0,1335.4 985.8,1334.1 986.5,1330.5 987.2,1326.0 988.0,1321.6 988.8,1317.0 989.5,1310.8 990.2,1303.2 991.0,1294.1 991.8,1283.1 992.5,1269.6 993.2,1254.0 994.0,1236.6 994.8,1217.5 995.5,1197.1 996.2,1176.7 997.0,1157.1 997.8,1140.3 998.5,1128.0 999.2,1121.0 1000.0,1120.2 1000.8,1125.8 1001.5,1137.4 1002.2,1153.9 1003.0,1173.3 1003.8,1193.9 1004.5,1214.3 1005.2,1233.9 1006.0,1251.9 1006.8,1267.1 1007.5,1280.0 1008.2,1292.0 1009.0,1302.5 1009.8,1309.6 1010.5,1314.0 1011.2,1317.7 1012.0,1321.4 1012.8,1324.1 1013.5,1325.5 1014.2,1325.5 1015.0,1324.2 1015.8,1322.6 1016.5,1321.2 1017.2,1319.3 1018.0,1317.1 1018.8,1315.2 1019.5,1314.1 1020.2,1313.3 1021.0,1312.7 1021.8,1313.8 1022.5,1317.1 1023.2,1321.8 1024.0,1326.5 1024.8,1330.2 1025.5,1332.6 1026.2,1333.8 1027.0,1334.2 1027.8,1334.9 1028.5,1336.4 1029.2,1337.4 1030.0,1337.2 1030.8,1336.3 1031.5,1335.9 1032.2,1336.2 1033.0,1336.7 1033.8,1337.2 1034.5,1337.9 1035.2,1338.8 1036.0,1339.4 1036.8,1338.5 1037.5,1337.0 1038.2,1336.7 1039.0,1338.4 1039.8,1340.3 1040.5,1340.6 1041.2,1339.9 1042.0,1338.9 1042.8,1337.9 1043.5,1337.3 1044.2,1337.6 1045.0,1338.7 1045.8,1339.8 1046.5,1339.7 1047.2,1339.4 1048.0,1339.4 1048.8,1339.7 1049.5,1339.2 1050.2,1338.0 1051.0,1338.1 1051.8,1339.7 1052.5,1341.3 1053.2,1341.8 1054.0,1341.2 1054.8,1340.8 1055.5,1340.6 1056.2,1340.0 1057.0,1339.4 1057.8,1339.6 1058.5,1340.8 1059.2,1341.6 1060.0,1342.1 1060.8,1342.4 1061.5,1341.9 1062.2,1340.8 1063.0,1340.1 1063.8,1340.3 1064.5,1340.4 1065.2,1339.5 1066.0,1338.3 1066.8,1337.2 1067.5,1336.0 1068.2,1334.4 1069.0,1331.9 1069.8,1328.8 1070.5,1325.8 1071.2,1323.1 1072.0,1320.4 1072.8,1316.9 1073.5,1312.9 1074.2,1308.9 1075.0,1304.9 1075.8,1301.3 1076.5,1298.4 1077.2,1297.2 1078.0,1298.1 1078.8,1300.5 1079.5,1304.0 1080.2,1308.2 1081.0,1312.6 1081.8,1316.4 1082.5,1319.7 1083.2,1322.8 1084.0,1325.9 1084.8,1328.4 1085.5,1330.3 1086.2,1332.5 1087.0,1335.0 1087.8,1337.0 1088.5,1338.4 1089.2,1339.3 1090.0,1339.8 1090.8,1340.0 1091.5,1340.2 1092.2,1340.3 1093.0,1340.0 1093.8,1340.2 1094.5,1341.2 1095.2,1342.3 1096.0,1342.5 1096.8,1341.8 1097.5,1340.7 1098.2,1339.6 1099.0,1339.0 1099.8,1339.1 1100.5,1339.6 1101.2,1339.8 1102.0,1339.4 1102.8,1338.4 1103.5,1337.7 1104.2,1338.0 1105.0,1339.1 1105.8,1339.6 1106.5,1338.8 1107.2,1338.4 1108.0,1338.9 1108.8,1339.3 1109.5,1338.8 1110.2,1338.5 1111.0,1339.3 1111.8,1340.3 1112.5,1341.0 1113.2,1341.8 1114.0,1342.5 1114.8,1342.8 1115.5,1342.8 1116.2,1343.4 1117.0,1345.0 1117.8,1345.9 1118.5,1345.3 1119.2,1343.6 1120.0,1342.1 1120.8,1341.6 1121.5,1341.6 1122.2,1341.7 1123.0,1342.0 1123.8,1341.8 1124.5,1341.5 1125.2,1340.7 1126.0,1339.4 1126.8,1338.6 1127.5,1338.9 1128.2,1340.1 1129.0,1341.2 1129.8,1341.4 1130.5,1341.1 1131.2,1340.4 1132.0,1339.1 1132.8,1338.1 1133.5,1338.0 1134.2,1338.2 1135.0,1338.2 1135.8,1338.3 1136.5,1338.6 1137.2,1338.1 1138.0,1336.5 1138.8,1335.0 1139.5,1334.2 1140.2,1333.8 1141.0,1333.4 1141.8,1332.5 1142.5,1331.0 1143.2,1329.0 1144.0,1326.8 1144.8,1322.8 1145.5,1316.7 1146.2,1309.1 1147.0,1300.8 1147.8,1292.3 1148.5,1283.5 1149.2,1274.3 1150.0,1265.0 1150.8,1255.5 1151.5,1245.9 1152.2,1237.0 1153.0,1230.0 1153.8,1226.2 1154.5,1224.8 1155.2,1224.7 1156.0,1227.1 1156.8,1233.3 1157.5,1243.1 1158.2,1254.2 1159.0,1264.8 1159.8,1274.7 1160.5,1283.8 1161.2,1292.6 1162.0,1300.5 1162.8,1307.4 1163.5,1313.5 1164.2,1318.8 1165.0,1323.4 1165.8,1327.3 1166.5,1330.9 1167.2,1333.6 1168.0,1334.9 1168.8,1335.6 1169.5,1336.9 1170.2,1338.1 1171.0,1338.3 1171.8,1338.1 1172.5,1338.7 1173.2,1339.6 1174.0,1340.5 1174.8,1341.4 1175.5,1342.0 1176.2,1341.3 1177.0,1339.8 1177.8,1339.3 1178.5,1340.2 1179.2,1340.8 1180.0,1340.3 1180.8,1339.2 1181.5,1339.1 1182.2,1340.1 1183.0,1340.8 1183.8,1341.1 1184.5,1341.2 1185.2,1341.7 1186.0,1342.4 1186.8,1342.9 1187.5,1342.9 1188.2,1342.5 1189.0,1342.1 1189.8,1341.8 1190.5,1341.6 1191.2,1342.0 1192.0,1342.7 1192.8,1342.7 1193.5,1341.8 1194.2,1340.9 1195.0,1340.2 1195.8,1340.0 1196.5,1340.3 1197.2,1340.8 1198.0,1340.7 1198.8,1339.9 1199.5,1339.4 1200.2,1339.8 1201.0,1340.9 1201.8,1341.6 1202.5,1341.5 1203.2,1341.3 1204.0,1341.9 1204.8,1342.4 1205.5,1342.3 1206.2,1341.8 1207.0,1341.5 1207.8,1341.4 1208.5,1341.4 1209.2,1341.4 1210.0,1341.2 1210.8,1340.8 1211.5,1340.5 1212.2,1340.5 1213.0,1340.1 1213.8,1339.1 1214.5,1338.3 1215.2,1338.6 1216.0,1339.6 1216.8,1340.5 1217.5,1340.9 1218.2,1340.7 1219.0,1340.2 1219.8,1339.9 1220.5,1340.1 1221.2,1340.9 1222.0,1341.8 1222.8,1342.1 1223.5,1342.3 1224.2,1342.8 1225.0,1343.3 1225.8,1343.1 1226.5,1342.3 1227.2,1341.6 1228.0,1341.3 1228.8,1340.5 1229.5,1339.7 1230.2,1339.4 1231.0,1339.1 1231.8,1339.0 1232.5,1338.8 1233.2,1338.7 1234.0,1338.5 1234.8,1337.6 1235.5,1336.7 1236.2,1335.7 1237.0,1334.3 1237.8,1333.3 1238.5,1332.7 1239.2,1332.0 1240.0,1330.4 1240.8,1327.7 1241.5,1323.7 1242.2,1318.7 1243.0,1313.5 1243.8,1308.9 1244.5,1304.3 1245.2,1299.1 1246.0,1293.8 1246.8,1289.5 1247.5,1286.9 1248.2,1285.6 1249.0,1285.5 1249.8,1286.7 1250.5,1289.5 1251.2,1294.2 1252.0,1300.2 1252.8,1306.2 1253.5,1311.1 1254.2,1315.0 1255.0,1319.1 1255.8,1323.0 1256.5,1326.2 1257.2,1329.0 1258.0,1332.0 1258.8,1334.8 1259.5,1335.7 1260.2,1335.5 1261.0,1335.4 1261.8,1335.7 1262.5,1335.8 1263.2,1335.4 1264.0,1335.2 1264.8,1335.1 1265.5,1335.8 1266.2,1337.4 1267.0,1339.1 1267.8,1339.7 1268.5,1339.6 1269.2,1339.9 1270.0,1340.6 1270.8,1340.9 1271.5,1340.2 1272.2,1339.4 1273.0,1339.1 1273.8,1339.6 1274.5,1340.1 1275.2,1340.1 1276.0,1340.3 1276.8,1341.0 1277.5,1341.9 1278.2,1341.8 1279.0,1340.6 1279.8,1339.0 1280.5,1338.0 1281.2,1338.3 1282.0,1339.4 1282.8,1340.2 1283.5,1339.8 1284.2,1338.5 1285.0,1337.5 1285.8,1336.8 1286.5,1335.3 1287.2,1333.3 1288.0,1331.7 1288.8,1331.2 1289.5,1330.6 1290.2,1328.6 1291.0,1324.6 1291.8,1319.9 1292.5,1315.5 1293.2,1311.2 1294.0,1306.3 1294.8,1301.6 1295.5,1297.6 1296.2,1293.9 1297.0,1290.4 1297.8,1288.1 1298.5,1287.8 1299.2,1289.5 1300.0,1292.6 1300.8,1296.7 1301.5,1301.2 1302.2,1305.5 1303.0,1309.6 1303.8,1314.0 1304.5,1318.6 1305.2,1323.3 1306.0,1327.4 1306.8,1330.3 1307.5,1332.5 1308.2,1334.5 1309.0,1336.3 1309.8,1337.7 1310.5,1338.8 1311.2,1339.5 1312.0,1339.0 1312.8,1338.3 1313.5,1339.2 1314.2,1341.2 1315.0,1342.6 1315.8,1342.9 1316.5,1342.8 1317.2,1342.4 1318.0,1342.0 1318.8,1342.1 1319.5,1342.7 1320.2,1343.1 1321.0,1343.1 1321.8,1342.8 1322.5,1342.1 1323.2,1341.8 1324.0,1342.3 1324.8,1343.3 1325.5,1343.8 1326.2,1343.4 1327.0,1342.7 1327.8,1342.3 1328.5,1342.2 1329.2,1342.1 1330.0,1341.9 1330.8,1342.1 1331.5,1342.6 1332.2,1342.7 1333.0,1342.5 1333.8,1342.0 1334.5,1340.9 1335.2,1339.8 1336.0,1340.2 1336.8,1341.8 1337.5,1342.8 1338.2,1342.2 1339.0,1340.8 1339.8,1339.8 1340.5,1339.3 1341.2,1339.5 1342.0,1340.0 1342.8,1340.3 1343.5,1340.8 1344.2,1341.7 1345.0,1342.3 1345.8,1341.7 1346.5,1339.6 1347.2,1337.0 1348.0,1334.8 1348.8,1333.6 1349.5,1333.2 1350.2,1332.6 1351.0,1331.4 1351.8,1330.2 1352.5,1329.2 1353.2,1329.3 1354.0,1330.7 1354.8,1332.6 1355.5,1334.2 1356.2,1335.2 1357.0,1336.3 1357.8,1337.8 1358.5,1339.7 1359.2,1341.7 1360.0,1342.6 1360.8,1341.9 1361.5,1340.6 1362.2,1339.5 1363.0,1339.0 1363.8,1339.2 1364.5,1340.3 1365.2,1341.5 1366.0,1341.6 1366.8,1340.5 1367.5,1338.7 1368.2,1337.2 1369.0,1335.5 1369.8,1334.0 1370.5,1333.0 1371.2,1332.1 1372.0,1330.7 1372.8,1328.1 1373.5,1324.6 1374.2,1321.2 1375.0,1317.8 1375.8,1314.3 1376.5,1310.6 1377.2,1307.3 1378.0,1305.2 1378.8,1304.5 1379.5,1304.5 1380.2,1304.4 1381.0,1304.4 1381.8,1305.1 1382.5,1307.9 1383.2,1313.0 1384.0,1318.1 1384.8,1320.8 1385.5,1322.2 1386.2,1324.0 1387.0,1326.9 1387.8,1329.8 1388.5,1332.0 1389.2,1333.7 1390.0,1334.6 1390.8,1334.8 1391.5,1334.9 1392.2,1335.6 1393.0,1336.9 1393.8,1337.8 1394.5,1338.3 1395.2,1339.2 1396.0,1340.4 1396.8,1341.2 1397.5,1341.2 1398.2,1341.4 1399.0,1342.4 1399.8,1343.9 1400.5,1344.9 1401.2,1344.8 1402.0,1343.7 1402.8,1342.8 1403.5,1342.5 1404.2,1342.7 1405.0,1342.8 1405.8,1342.8 1406.5,1343.4 1407.2,1343.8 1408.0,1343.5 1408.8,1343.0 1409.5,1342.7 1410.2,1342.8 1411.0,1342.6 1411.8,1342.3 1412.5,1341.8 1413.2,1341.0 1414.0,1340.7 1414.8,1341.3 1415.5,1342.6 1416.2,1343.6 1417.0,1343.5 1417.8,1342.3 1418.5,1340.9 1419.2,1340.4 1420.0,1341.1 1420.8,1342.1 1421.5,1342.6 1422.2,1342.3 1423.0,1340.8 1423.8,1338.9 1424.5,1338.1 1425.2,1338.3 1426.0,1338.7 1426.8,1338.6 1427.5,1338.0 1428.2,1338.0 1429.0,1338.9 1429.8,1340.0 1430.5,1340.3 1431.2,1339.4 1432.0,1338.0 1432.8,1336.8 1433.5,1335.8 1434.2,1334.3 1435.0,1332.0 1435.8,1329.0 1436.5,1325.5 1437.2,1321.4 1438.0,1318.1 1438.8,1317.1 1439.5,1317.2 1440.2,1316.3 1441.0,1313.9 1441.8,1311.6 1442.5,1310.6 1443.2,1310.7 1444.0,1310.9 1444.8,1310.7 1445.5,1310.9 1446.2,1313.2 1447.0,1317.3 1447.8,1321.2 1448.5,1323.5 1449.2,1325.1 1450.0,1327.1 1450.8,1329.8 1451.5,1333.2 1452.2,1336.4 1453.0,1338.2 1453.8,1338.1 1454.5,1337.9 1455.2,1338.4 1456.0,1339.2 1456.8,1339.3 1457.5,1338.7 1458.2,1338.0 1459.0,1337.8 1459.8,1338.3 1460.5,1338.5 1461.2,1338.2 1462.0,1337.7 1462.8,1337.1 1463.5,1336.0 1464.2,1334.5 1465.0,1333.3 1465.8,1332.2 1466.5,1331.1 1467.2,1330.1 1468.0,1328.8 1468.8,1326.6 1469.5,1323.4 1470.2,1320.4 1471.0,1317.1 1471.8,1312.7 1472.5,1307.3 1473.2,1301.9 1474.0,1296.7 1474.8,1291.0 1475.5,1285.5 1476.2,1280.6 1477.0,1276.2 1477.8,1272.4 1478.5,1269.6 1479.2,1268.3 1480.0,1268.4 1480.8,1269.3 1481.5,1271.2 1482.2,1274.4 1483.0,1279.2 1483.8,1285.1 1484.5,1291.6 1485.2,1298.4 1486.0,1304.8 1486.8,1309.8 1487.5,1314.0 1488.2,1318.3 1489.0,1322.1 1489.8,1324.6 1490.5,1326.3 1491.2,1328.6 1492.0,1331.0 1492.8,1332.1 1493.5,1332.1 1494.2,1332.6 1495.0,1333.4 1495.8,1332.9 1496.5,1331.3 1497.2,1329.8 1498.0,1328.3 1498.8,1326.0 1499.5,1322.9 1500.2,1320.1 1501.0,1318.2 1501.8,1316.8 1502.5,1315.8 1503.2,1315.5 1504.0,1316.5 1504.8,1318.4 1505.5,1319.9 1506.2,1320.9 1507.0,1321.8 1507.8,1322.6 1508.5,1323.4 1509.2,1323.5 1510.0,1322.8 1510.8,1322.1 1511.5,1322.3 1512.2,1323.7 1513.0,1325.4 1513.8,1327.3 1514.5,1329.7 1515.2,1332.0 1516.0,1333.7 1516.8,1334.5 1517.5,1334.5 1518.2,1334.0 1519.0,1333.7 1519.8,1334.2 1520.5,1334.6 1521.2,1334.7 1522.0,1335.8 1522.8,1338.0 1523.5,1339.3 1524.2,1338.3 1525.0,1336.7 1525.8,1336.3 1526.5,1336.4 1527.2,1335.6 1528.0,1334.2 1528.8,1333.1 1529.5,1333.3 1530.2,1334.8 1531.0,1336.1 1531.8,1335.4 1532.5,1333.1 1533.2,1331.5 1534.0,1330.9 1534.8,1330.1 1535.5,1327.9 1536.2,1324.8 1537.0,1320.9 1537.8,1315.6 1538.5,1308.8 1539.2,1301.2 1540.0,1293.5 1540.8,1285.4 1541.5,1276.0 1542.2,1265.0 1543.0,1252.4 1543.8,1238.7 1544.5,1224.9 1545.2,1211.2 1546.0,1196.8 1546.8,1182.0 1547.5,1168.1 1548.2,1156.4 1549.0,1146.9 1549.8,1139.7 1550.5,1135.7 1551.2,1135.8 1552.0,1140.7 1552.8,1149.4 1553.5,1160.1 1554.2,1172.1 1555.0,1185.6 1555.8,1200.3 1556.5,1215.1 1557.2,1229.2 1558.0,1242.8 1558.8,1256.0 1559.5,1269.2 1560.2,1282.0 1561.0,1292.8 1561.8,1300.7 1562.5,1306.9 1563.2,1313.1 1564.0,1319.0 1564.8,1323.1 1565.5,1325.0 1566.2,1325.8 1567.0,1326.9 1567.8,1328.5 1568.5,1330.3 1569.2,1331.9 1570.0,1332.4 1570.8,1332.6 1571.5,1333.1 1572.2,1334.7 1573.0,1336.1 1573.8,1336.0 1574.5,1335.4 1575.2,1335.3 1576.0,1336.2 1576.8,1337.0 1577.5,1337.3 1578.2,1337.6 1579.0,1337.8 1579.8,1338.0 1580.5,1339.0 1581.2,1340.8 1582.0,1341.7 1582.8,1340.6 1583.5,1338.7 1584.2,1337.5 1585.0,1337.1 1585.8,1337.9 1586.5,1339.4 1587.2,1340.6 1588.0,1340.5 1588.8,1339.5 1589.5,1339.0 1590.2,1339.3 1591.0,1339.5 1591.8,1339.2 1592.5,1338.5 1593.2,1337.9 1594.0,1337.7 1594.8,1338.5 1595.5,1340.4 1596.2,1342.2 1597.0,1342.4 1597.8,1341.5 1598.5,1341.1 1599.2,1341.9 1600.0,1342.3 1600.8,1341.6 1601.5,1341.4 1602.2,1342.2 1603.0,1342.5 1603.8,1341.6 1604.5,1340.5 1605.2,1339.8 1606.0,1339.3 1606.8,1339.1 1607.5,1339.5 1608.2,1339.7 1609.0,1339.6 1609.8,1339.9 1610.5,1340.5 1611.2,1340.7 1612.0,1340.5 1612.8,1340.5 1613.5,1340.6 1614.2,1341.0 1615.0,1341.8 1615.8,1342.3 1616.5,1341.3 1617.2,1339.6 1618.0,1338.8 1618.8,1338.6 1619.5,1338.2 1620.2,1337.8 1621.0,1338.3 1621.8,1339.2 1622.5,1339.9 1623.2,1340.5 1624.0,1340.6 1624.8,1340.7 1625.5,1340.7 1626.2,1341.0 1627.0,1341.1 1627.8,1340.0 1628.5,1338.4 1629.2,1337.4 1630.0,1337.3 1630.8,1338.1 1631.5,1339.3 1632.2,1340.2 1633.0,1340.1 1633.8,1339.2 1634.5,1338.9 1635.2,1339.0 1636.0,1339.0 1636.8,1339.0 1637.5,1339.2 1638.2,1339.6 1639.0,1340.2 1639.8,1341.0 1640.5,1341.8 1641.2,1341.9 1642.0,1341.5 1642.8,1341.4 1643.5,1342.2 1644.2,1343.0 1645.0,1342.9 1645.8,1342.6 1646.5,1342.3 1647.2,1341.8 1648.0,1341.0 1648.8,1340.6 1649.5,1341.0 1650.2,1341.4 1651.0,1340.9 1651.8,1340.1 1652.5,1340.1 1653.2,1341.2 1654.0,1342.3 1654.8,1342.0 1655.5,1341.6 1656.2,1342.5 1657.0,1343.6 1657.8,1343.0 1658.5,1340.2 1659.2,1337.3 1660.0,1336.0 1660.8,1335.2 1661.5,1334.2 1662.2,1332.7 1663.0,1330.9 1663.8,1329.3 1664.5,1327.9 1665.2,1327.0 1666.0,1326.2 1666.8,1324.9 1667.5,1323.2 1668.2,1322.5 1669.0,1323.5 1669.8,1325.8 1670.5,1328.0 1671.2,1328.9 1672.0,1329.3 1672.8,1329.9 1673.5,1331.2 1674.2,1333.3 1675.0,1335.4 1675.8,1336.9 1676.5,1337.4 1677.2,1338.0 1678.0,1339.3 1678.8,1340.3 1679.5,1340.7 1680.2,1340.3 1681.0,1340.2 1681.8,1340.4 1682.5,1340.6 1683.2,1341.1 1684.0,1341.5 1684.8,1341.4 1685.5,1341.6 1686.2,1341.7 1687.0,1341.6 1687.8,1341.3 1688.5,1341.7 1689.2,1342.6 1690.0,1342.7 1690.8,1342.1 1691.5,1341.5 1692.2,1341.4 1693.0,1341.1 1693.8,1340.8 1694.5,1340.4 1695.2,1339.5 1696.0,1338.3 1696.8,1337.7 1697.5,1338.3 1698.2,1339.6 1699.0,1340.4 1699.8,1341.0 1700.5,1341.6 1701.2,1341.8 1702.0,1342.0 1702.8,1342.2 1703.5,1342.5 1704.2,1342.6 1705.0,1342.0 1705.8,1341.1 1706.5,1340.5 1707.2,1340.7 1708.0,1341.3 1708.8,1341.7 1709.5,1342.2 1710.2,1343.4 1711.0,1344.5 1711.8,1344.6 1712.5,1343.8 1713.2,1343.3 1714.0,1343.4 1714.8,1343.7 1715.5,1343.7 1716.2,1343.6 1717.0,1343.2 1717.8,1342.5 1718.5,1341.9 1719.2,1342.0 1720.0,1342.5 1720.8,1342.8 1721.5,1342.9 1722.2,1342.9 1723.0,1342.3 1723.8,1341.7 1724.5,1341.7 1725.2,1342.2 1726.0,1342.5 1726.8,1342.7 1727.5,1342.8 1728.2,1342.9 1729.0,1342.8 1729.8,1342.3 1730.5,1341.6 1731.2,1340.7 1732.0,1340.7 1732.8,1341.0 1733.5,1340.8 1734.2,1340.4 1735.0,1339.7 1735.8,1339.5 1736.5,1339.9 1737.2,1340.3 1738.0,1340.1 1738.8,1339.3 1739.5,1338.8 1740.2,1339.1 1741.0,1339.8 1741.8,1340.2 1742.5,1339.3 1743.2,1337.9 1744.0,1337.1 1744.8,1337.5 1745.5,1338.4 1746.2,1339.1 1747.0,1340.0 1747.8,1341.0 1748.5,1341.9 1749.2,1342.6 1750.0,1342.8 1750.8,1342.5 1751.5,1342.1 1752.2,1341.3 1753.0,1339.8 1753.8,1338.0 1754.5,1336.7 1755.2,1336.4 1756.0,1336.4 1756.8,1336.5 1757.5,1337.0 1758.2,1338.2 1759.0,1339.0 1759.8,1338.9 1760.5,1337.9 1761.2,1336.6 1762.0,1336.2 1762.8,1336.1 1763.5,1335.9 1764.2,1335.4 1765.0,1335.1 1765.8,1334.6 1766.5,1333.5 1767.2,1332.6 1768.0,1332.3 1768.8,1331.4 1769.5,1329.5 1770.2,1327.4 1771.0,1325.7 1771.8,1323.3 1772.5,1319.4 1773.2,1314.1 1774.0,1308.4 1774.8,1302.7 1775.5,1297.6 1776.2,1292.9 1777.0,1287.2 1777.8,1280.5 1778.5,1273.6 1779.2,1267.7 1780.0,1263.7 1780.8,1261.0 1781.5,1259.5 1782.2,1258.9 1783.0,1259.5 1783.8,1262.1 1784.5,1266.5 1785.2,1272.5 1786.0,1278.9 1786.8,1284.3 1787.5,1289.3 1788.2,1295.5 1789.0,1302.5 1789.8,1308.7 1790.5,1313.1 1791.2,1316.6 1792.0,1320.5 1792.8,1324.7 1793.5,1328.0 1794.2,1329.7 1795.0,1329.9 1795.8,1330.3 1796.5,1332.2 1797.2,1335.2 1798.0,1338.4 1798.8,1340.2 1799.5,1340.1 1800.2,1339.4 1801.0,1339.4 1801.8,1340.0 1802.5,1340.3 1803.2,1340.3 1804.0,1340.8 1804.8,1341.6 1805.5,1341.7 1806.2,1340.9 1807.0,1339.9 1807.8,1339.3 1808.5,1339.0 1809.2,1339.2 1810.0,1339.9 1810.8,1341.0 1811.5,1342.2 1812.2,1343.0 1813.0,1342.8 1813.8,1341.8 1814.5,1341.3 1815.2,1341.4 1816.0,1341.1 1816.8,1339.9 1817.5,1338.5 1818.2,1338.1 1819.0,1338.2 1819.8,1338.2 1820.5,1337.9 1821.2,1337.3 1822.0,1336.4 1822.8,1335.3 1823.5,1334.5 1824.2,1334.2 1825.0,1333.9 1825.8,1333.3 1826.5,1332.1 1827.2,1331.0 1828.0,1330.2 1828.8,1329.1 1829.5,1327.6 1830.2,1327.3 1831.0,1328.4 1831.8,1330.0 1832.5,1331.0 1833.2,1331.7 1834.0,1332.4 1834.8,1332.9 1835.5,1333.5 1836.2,1334.2 1837.0,1334.6 1837.8,1334.6 1838.5,1335.1 1839.2,1335.4 1840.0,1334.6 1840.8,1331.8 1841.5,1328.3 1842.2,1325.6 1843.0,1324.5 1843.8,1324.2 1844.5,1322.8 1845.2,1320.6 1846.0,1319.5 1846.8,1319.5 1847.5,1319.1 1848.2,1318.1 1849.0,1317.4 1849.8,1317.4 1850.5,1318.4 1851.2,1320.0 1852.0,1321.9 1852.8,1323.6 1853.5,1325.0 1854.2,1327.1 1855.0,1330.1 1855.8,1333.1 1856.5,1334.6 1857.2,1334.5 1858.0,1334.3 1858.8,1334.5 1859.5,1335.1 1860.2,1336.3 1861.0,1337.9 1861.8,1339.1 1862.5,1339.1 1863.2,1338.1 1864.0,1337.4 1864.8,1337.1 1865.5,1336.9 1866.2,1335.9 1867.0,1334.7 1867.8,1334.2 1868.5,1334.2 1869.2,1333.5 1870.0,1331.8 1870.8,1330.2 1871.5,1329.4 1872.2,1328.5 1873.0,1326.6 1873.8,1323.8 1874.5,1320.6 1875.2,1317.3 1876.0,1313.7 1876.8,1309.5 1877.5,1304.0 1878.2,1296.8 1879.0,1289.1 1879.8,1282.2 1880.5,1276.0 1881.2,1269.8 1882.0,1263.4 1882.8,1256.8 1883.5,1249.6 1884.2,1242.2 1885.0,1235.7 1885.8,1230.7 1886.5,1226.3 1887.2,1222.0 1888.0,1219.1 1888.8,1218.2 1889.5,1219.1 1890.2,1221.4 1891.0,1224.9 1891.8,1229.3 1892.5,1233.9 1893.2,1239.1 1894.0,1245.9 1894.8,1253.7 1895.5,1261.0 1896.2,1267.7 1897.0,1274.8 1897.8,1282.0 1898.5,1289.2 1899.2,1296.2 1900.0,1303.2 1900.8,1309.2 1901.5,1313.2 1902.2,1315.9 1903.0,1318.1 1903.8,1320.6 1904.5,1323.7 1905.2,1326.8 1906.0,1329.2 1906.8,1330.6 1907.5,1331.7 1908.2,1332.8 1909.0,1333.7 1909.8,1334.5 1910.5,1335.4 1911.2,1335.6 1912.0,1335.1 1912.8,1335.1 1913.5,1335.9 1914.2,1337.5 1915.0,1339.2 1915.8,1340.1 1916.5,1339.7 1917.2,1338.8 1918.0,1338.9 1918.8,1340.1 1919.5,1341.5 1920.2,1342.1 1921.0,1341.8 1921.8,1341.0 1922.5,1340.6 1923.2,1340.5 1924.0,1340.3 1924.8,1340.3 1925.5,1340.3 1926.2,1339.7 1927.0,1338.6 1927.8,1338.1 1928.5,1338.5 1929.2,1339.1 1930.0,1339.6 1930.8,1339.5 1931.5,1338.9 1932.2,1337.9 1933.0,1337.0 1933.8,1336.8 1934.5,1337.2 1935.2,1337.7 1936.0,1338.3 1936.8,1339.2 1937.5,1340.6 1938.2,1341.7 1939.0,1341.7 1939.8,1341.6 1940.5,1341.7 1941.2,1342.5 1942.0,1343.8 1942.8,1344.5 1943.5,1343.7 1944.2,1342.1 1945.0,1340.7 1945.8,1339.7 1946.5,1339.1 1947.2,1339.4 1948.0,1339.7 1948.8,1339.8 1949.5,1340.4 1950.2,1341.6 1951.0,1342.3 1951.8,1342.1 1952.5,1342.0 1953.2,1342.5 1954.0,1342.7 1954.8,1342.2 1955.5,1341.8 1956.2,1341.6 1957.0,1341.7 1957.8,1342.1 1958.5,1342.6 1959.2,1342.8 1960.0,1341.8 1960.8,1340.1 1961.5,1338.8 1962.2,1338.8 1963.0,1340.3 1963.8,1341.9 1964.5,1342.2 1965.2,1341.1 1966.0,1339.5 1966.8,1339.0 1967.5,1339.1 1968.2,1339.3 1969.0,1340.2 1969.8,1342.1 1970.5,1344.0 1971.2,1343.9 1972.0,1342.5 1972.8,1341.0 1973.5,1339.7 1974.2,1338.5 1975.0,1337.6 1975.8,1337.6 1976.5,1338.1 1977.2,1338.0 1978.0,1336.3 1978.8,1333.6 1979.5,1331.1 1980.2,1329.7 1981.0,1328.5 1981.8,1326.4 1982.5,1323.4 1983.2,1319.8 1984.0,1316.4 1984.8,1314.0 1985.5,1313.0 1986.2,1312.9 1987.0,1312.6 1987.8,1311.8 1988.5,1311.6 1989.2,1312.2 1990.0,1313.1 1990.8,1314.7 1991.5,1317.2 1992.2,1319.6 1993.0,1320.5 1993.8,1320.5 1994.5,1321.1 1995.2,1321.9 1996.0,1322.9 1996.8,1324.4 1997.5,1326.6 1998.2,1328.2 1999.0,1328.9 1999.8,1329.8 2000.5,1331.0 2001.2,1332.4 2002.0,1333.7 2002.8,1335.0 2003.5,1336.2 2004.2,1336.9 2005.0,1337.0 2005.8,1336.8 2006.5,1336.8 2007.2,1336.5 2008.0,1335.7 2008.8,1335.6 2009.5,1336.7 2010.2,1338.0 2011.0,1339.4 2011.8,1341.3 2012.5,1342.8 2013.2,1342.7 2014.0,1341.4 2014.8,1340.8 2015.5,1341.1 2016.2,1341.7 2017.0,1342.3 2017.8,1342.7 2018.5,1342.5 2019.2,1341.6 2020.0,1340.6 2020.8,1340.2 2021.5,1340.9 2022.2,1341.6 2023.0,1341.2 2023.8,1340.5 2024.5,1340.7 2025.2,1341.1 2026.0,1340.8 2026.8,1340.2 2027.5,1340.4 2028.2,1341.3 2029.0,1342.5 2029.8,1343.5 2030.5,1343.4 2031.2,1342.5 2032.0,1342.1 2032.8,1342.6 2033.5,1343.0 2034.2,1342.4 2035.0,1341.2 2035.8,1340.6 2036.5,1340.9 2037.2,1341.9 2038.0,1342.9 2038.8,1343.2 2039.5,1342.6 2040.2,1341.4 2041.0,1340.5 2041.8,1340.3 2042.5,1340.3 2043.2,1339.6 2044.0,1338.9 2044.8,1338.9 2045.5,1338.6 2046.2,1337.9 2047.0,1337.4 2047.8,1337.6 2048.5,1338.7 2049.2,1339.8 2050.0,1340.4 2050.8,1340.7 2051.5,1340.8 2052.2,1340.4 2053.0,1339.9 2053.8,1340.0 2054.5,1341.4 2055.2,1342.5 2056.0,1341.9 2056.8,1340.7 2057.5,1339.6 2058.2,1338.9 2059.0,1338.0 2059.8,1337.2 2060.5,1337.5 2061.2,1338.3 2062.0,1338.9 2062.8,1339.0 2063.5,1338.6 2064.2,1337.8 2065.0,1336.8 2065.8,1337.2 2066.5,1338.9 2067.2,1340.0 2068.0,1339.5 2068.8,1338.6 2069.5,1338.7 2070.2,1339.5 2071.0,1340.4 2071.8,1340.4 2072.5,1339.3 2073.2,1338.0 2074.0,1337.4 2074.8,1337.5 2075.5,1338.0 2076.2,1338.2 2077.0,1338.0 2077.8,1337.4 2078.5,1336.6 2079.2,1335.8 2080.0,1334.2 2080.8,1332.3 2081.5,1330.9 2082.2,1330.0 2083.0,1328.8 2083.8,1326.3 2084.5,1323.2 2085.2,1320.8 2086.0,1319.8 2086.8,1319.9 2087.5,1320.8 2088.2,1322.3 2089.0,1323.6 2089.8,1324.1 2090.5,1324.1 2091.2,1323.8 2092.0,1322.9 2092.8,1321.5 2093.5,1320.1 2094.2,1318.7 2095.0,1316.9 2095.8,1315.2 2096.5,1314.0 2097.2,1312.3 2098.0,1309.5 2098.8,1307.3 2099.5,1307.2 2100.2,1309.0 2101.0,1311.6 2101.8,1314.4 2102.5,1316.8 2103.2,1318.2 2104.0,1318.6 2104.8,1319.9 2105.5,1323.1 2106.2,1326.7 2107.0,1329.0 2107.8,1329.8 2108.5,1330.6 2109.2,1332.4 2110.0,1334.1 2110.8,1335.0 2111.5,1335.8 2112.2,1337.1 2113.0,1337.7 2113.8,1337.1 2114.5,1336.1 2115.2,1336.1 2116.0,1336.9 2116.8,1337.2 2117.5,1336.9 2118.2,1336.7 2119.0,1336.8 2119.8,1337.1 2120.5,1338.1 2121.2,1338.9 2122.0,1338.4 2122.8,1337.2 2123.5,1337.1 2124.2,1339.1 2125.0,1340.5 2125.8,1339.6 2126.5,1338.0 2127.2,1337.6 2128.0,1338.6 2128.8,1339.8 2129.5,1340.6 2130.2,1341.4 2131.0,1341.9 2131.8,1341.5 2132.5,1340.9 2133.2,1340.6 2134.0,1340.9 2134.8,1341.3 2135.5,1341.6 2136.2,1341.8 2137.0,1341.7 2137.8,1342.1 2138.5,1342.5 2139.2,1342.1 2140.0,1341.2 2140.8,1340.3 2141.5,1340.2 2142.2,1340.6 2143.0,1341.1 2143.8,1341.2 2144.5,1341.1 2145.2,1341.3 2146.0,1341.5 2146.8,1341.4 2147.5,1341.3 2148.2,1341.2 2149.0,1341.2 2149.8,1341.3 2150.5,1341.2 2151.2,1340.0 2152.0,1338.3 2152.8,1337.5 2153.5,1337.7 2154.2,1338.1 2155.0,1338.2 2155.8,1337.8 2156.5,1337.2 2157.2,1336.9 2158.0,1336.4 2158.8,1335.4 2159.5,1334.4 2160.2,1333.9 2161.0,1333.3 2161.8,1331.8 2162.5,1330.2 2163.2,1329.7 2164.0,1330.7 2164.8,1332.3 2165.5,1333.3 2166.2,1333.4 2167.0,1333.4 2167.8,1333.5 2168.5,1333.7 2169.2,1334.4 2170.0,1335.9 2170.8,1337.2 2171.5,1337.7 2172.2,1338.0 2173.0,1339.1 2173.8,1340.4 2174.5,1340.7 2175.2,1340.7 2176.0,1341.1 2176.8,1341.2 2177.5,1340.7 2178.2,1339.9 2179.0,1339.7 2179.8,1339.7 2180.5,1339.2 2181.2,1338.9 2182.0,1338.9 2182.8,1338.6 2183.5,1337.6 2184.2,1336.2 2185.0,1335.4 2185.8,1335.3 2186.5,1335.6 2187.2,1335.4 2188.0,1334.1 2188.8,1331.8 2189.5,1329.8 2190.2,1329.5 2191.0,1330.3 2191.8,1330.8 2192.5,1330.5 2193.2,1329.8 2194.0,1330.0 2194.8,1331.7 2195.5,1333.9 2196.2,1335.5 2197.0,1336.1 2197.8,1336.0 2198.5,1335.7 2199.2,1335.9 2200.0,1336.8 2200.8,1337.9 2201.5,1338.3 2202.2,1338.4 2203.0,1338.4 2203.8,1338.3 2204.5,1337.8 2205.2,1336.6 2206.0,1334.8 2206.8,1333.4 2207.5,1333.8 2208.2,1335.1 2209.0,1336.0 2209.8,1336.5 2210.5,1337.4 2211.2,1338.3 2212.0,1339.0 2212.8,1339.5 2213.5,1340.2 2214.2,1340.1 2215.0,1339.3 2215.8,1338.9 2216.5,1339.4 2217.2,1339.7 2218.0,1339.7 2218.8,1339.2 2219.5,1338.6 2220.2,1338.0 2221.0,1338.0 2221.8,1338.5 2222.5,1339.4 2223.2,1340.2 2224.0,1340.6 2224.8,1340.7 2225.5,1340.9 2226.2,1341.1 2227.0,1340.8 2227.8,1339.8 2228.5,1339.1 2229.2,1339.4 2230.0,1340.2 2230.8,1340.7 2231.5,1340.7 2232.2,1340.1 2233.0,1339.5 2233.8,1338.9 2234.5,1338.4 2235.2,1338.4 2236.0,1338.5 2236.8,1338.6 2237.5,1338.2 2238.2,1337.3 2239.0,1336.1 2239.8,1335.3 2240.5,1335.8 2241.2,1336.9 2242.0,1337.1 2242.8,1335.8 2243.5,1334.3 2244.2,1333.9 2245.0,1334.4 2245.8,1334.0 2246.5,1331.9 2247.2,1329.9 2248.0,1329.3 2248.8,1329.7 2249.5,1330.4 2250.2,1331.9 2251.0,1334.2 2251.8,1335.5 2252.5,1335.0 2253.2,1334.3 2254.0,1334.9 2254.8,1336.4 2255.5,1337.2 2256.2,1336.5 2257.0,1335.2 2257.8,1334.7 2258.5,1335.8 2259.2,1337.5 2260.0,1338.0 2260.8,1337.8 2261.5,1337.3 2262.2,1337.3 2263.0,1338.2 2263.8,1338.9 2264.5,1339.1 2265.2,1338.5 2266.0,1337.7 2266.8,1337.0 2267.5,1336.9 2268.2,1337.9 2269.0,1339.0 2269.8,1339.5 2270.5,1339.2 2271.2,1338.5 2272.0,1337.4 2272.8,1336.1 2273.5,1335.9 2274.2,1336.6 2275.0,1337.6 2275.8,1338.1 2276.5,1337.9 2277.2,1337.7 2278.0,1337.3 2278.8,1337.2 2279.5,1338.0 2280.2,1339.1 2281.0,1339.5 2281.8,1338.4 2282.5,1337.6 2283.2,1338.4 2284.0,1339.7 2284.8,1340.4 2285.5,1340.3 2286.2,1339.2 2287.0,1337.2 2287.8,1335.0 2288.5,1334.6 2289.2,1335.9 2290.0,1336.6 2290.8,1336.4 2291.5,1335.6 2292.2,1335.3 2293.0,1335.2 2293.8,1334.9 2294.5,1334.2 2295.2,1332.9 2296.0,1331.7 2296.8,1330.8 2297.5,1330.2 2298.2,1330.0 2299.0,1329.9 2299.8,1329.8 2300.5,1329.5 2301.2,1329.3 2302.0,1328.4 2302.8,1327.3 2303.5,1326.5 2304.2,1326.7 2305.0,1327.4 2305.8,1328.2 2306.5,1329.0 2307.2,1329.7 2308.0,1330.7 2308.8,1332.0 2309.5,1332.8 2310.2,1333.0 2311.0,1333.3 2311.8,1333.9 2312.5,1334.6 2313.2,1335.5 2314.0,1337.1 2314.8,1338.6 2315.5,1339.0 2316.2,1338.2 2317.0,1336.8 2317.8,1335.7 2318.5,1335.6 2319.2,1336.4 2320.0,1337.5"/>
</g>
<rect x="167" y="34" width="2173" height="1424" fill="none" stroke="#000" stroke-width="8"/>
<g id="ticks">
<rect x="185.25" y="1458" width="7.5" height="29"/>
<text x="188.8" y="1556.5" text-anchor="middle" letter-spacing="-0.3">10</text>
<rect x="337.39" y="1458" width="7.5" height="15"/>
<rect x="489.54" y="1458" width="7.5" height="29"/>
<text x="493.1" y="1556.5" text-anchor="middle" letter-spacing="-0.3">20</text>
<rect x="641.68" y="1458" width="7.5" height="15"/>
<rect x="793.82" y="1458" width="7.5" height="29"/>
<text x="797.4" y="1556.5" text-anchor="middle" letter-spacing="-0.3">30</text>
<rect x="945.96" y="1458" width="7.5" height="15"/>
<rect x="1098.11" y="1458" width="7.5" height="29"/>
<text x="1101.7" y="1556.5" text-anchor="middle" letter-spacing="-0.3">40</text>
<rect x="1250.25" y="1458" width="7.5" height="15"/>
<rect x="1402.39" y="1458" width="7.5" height="29"/>
<text x="1405.9" y="1556.5" text-anchor="middle" letter-spacing="-0.3">50</text>
<rect x="1554.54" y="1458" width="7.5" height="15"/>
<rect x="1706.68" y="1458" width="7.5" height="29"/>
<text x="1710.2" y="1556.5" text-anchor="middle" letter-spacing="-0.3">60</text>
<rect x="1858.82" y="1458" width="7.5" height="15"/>
<rect x="2010.96" y="1458" width="7.5" height="29"/>
<text x="2014.5" y="1556.5" text-anchor="middle" letter-spacing="-0.3">70</text>
<rect x="2163.11" y="1458" width="7.5" height="15"/>
<rect x="2315.25" y="1458" width="7.5" height="29"/>
<text x="2318.8" y="1556.5" text-anchor="middle" letter-spacing="-0.3">80</text>
</g>
<g id="labels">
<text transform="translate(339.2,128.4) rotate(90)">(010)</text>
<text transform="translate(448.2,92.9) rotate(90)">(100)</text>
<text transform="translate(575.2,95.0) rotate(90)">(011)</text>
<text transform="translate(632.2,98.2) rotate(90)">(110)</text>
<text transform="translate(838.2,45.6) rotate(90)">(111)</text>
<text transform="translate(967.8,67.2) rotate(90)">(002)</text>
<text transform="translate(1051.9,121.3) rotate(90)">(200)</text>
<text transform="translate(1118.4,111.3) rotate(90)">(121)</text>
<text transform="translate(1224.8,130.2) rotate(90)">(112)</text>
<text transform="translate(1285.8,126.5) rotate(90)">(211)</text>
<text transform="translate(1355.4,138.1) rotate(90)">(022)</text>
<text transform="translate(1439.5,120.5) rotate(90)">(130)</text>
<text transform="translate(1522.8,60.8) rotate(90)">(221)</text>
<text transform="translate(1730.4,123.1) rotate(90)">(113)</text>
<text transform="translate(1843.4,82.4) rotate(90)">(311)</text>
<text transform="translate(1936.5,135.0) rotate(90)">(041)</text>
<text transform="translate(2061.4,129.2) rotate(90)">(321)</text>
<text transform="translate(339.2,479.4) rotate(90)">(010)</text>
<text transform="translate(440.4,422.4) rotate(90)">(100)</text>
<text transform="translate(572.5,439.2) rotate(90)">(011)</text>
<text transform="translate(632.2,428.7) rotate(90)">(110)</text>
<text transform="translate(833.8,311.4) rotate(90)">(111)</text>
<text transform="translate(970.4,389.5) rotate(90)">(021)</text>
<text transform="translate(1041.4,459.4) rotate(90)">(200)</text>
<text transform="translate(1127.6,452.8) rotate(90)">(121)</text>
<text transform="translate(1345.4,469.1) rotate(90)">(022)</text>
<text transform="translate(1436.6,455.5) rotate(90)">(130)</text>
<text transform="translate(1511.8,405.2) rotate(90)">(221)</text>
<text transform="translate(1728.6,455.5) rotate(90)">(113)</text>
<text transform="translate(1834.3,431.8) rotate(90)">(132)</text>
<text transform="translate(345.7,1156.2) rotate(90)">(010)</text>
<text transform="translate(451.4,1093.1) rotate(90)">(100)</text>
<text transform="translate(579.6,1016.1) rotate(90)">(011)</text>
<text transform="translate(647.5,1040.6) rotate(90)">(110)</text>
<text transform="translate(857.0,728.6) rotate(90)">(111)</text>
<text transform="translate(981.4,963.1) rotate(90)">(002)</text>
<text transform="translate(1052.4,1140.4) rotate(90)">(200)</text>
<text transform="translate(1139.4,1057.1) rotate(90)">(102)</text>
<text transform="translate(1233.8,1130.4) rotate(90)">(112)</text>
<text transform="translate(1293.7,1137.3) rotate(90)">(211)</text>
<text transform="translate(1359.9,1145.7) rotate(90)">(022)</text>
<text transform="translate(1457.9,1122.8) rotate(90)">(130)</text>
<text transform="translate(1532.8,979.9) rotate(90)">(202)</text>
<text transform="translate(1751.5,1096.3) rotate(90)">(113)</text>
<text transform="translate(1871.2,1060.3) rotate(90)">(311)</text>
<text transform="translate(1965.5,1154.4) rotate(90)">(041)</text>
<text transform="translate(2078.5,1137.3) rotate(90)">(321)</text>
</g>
<g id="asterisks">
<text class="ast" stroke="#ff0000" stroke-width="1.6" stroke-linejoin="round" transform="translate(180.0,90.4) scale(0.777,1.089)">*</text>
<text class="ast" stroke="#ff0000" stroke-width="1.6" stroke-linejoin="round" transform="translate(996.7,103.5) scale(0.919,1.276)">*</text>
<text class="ast" stroke="#ff0000" stroke-width="1.6" stroke-linejoin="round" transform="translate(1228.5,158.2) scale(0.919,1.276)">*</text>
<text class="ast" stroke="#ff0000" stroke-width="1.6" stroke-linejoin="round" transform="translate(1274.6,146.3) scale(0.919,1.276)">*</text>
<text class="ast" stroke="#ff0000" stroke-width="1.6" stroke-linejoin="round" transform="translate(1819.6,105.3) scale(0.919,1.276)">*</text>
<text class="ast" stroke="#ff0000" stroke-width="1.6" stroke-linejoin="round" transform="translate(1924.9,160.5) scale(0.919,1.276)">*</text>
<text class="ast" stroke="#ff0000" stroke-width="1.6" stroke-linejoin="round" transform="translate(2050.5,143.4) scale(0.919,1.276)">*</text>
</g>
<text x="226.2" y="88.2" letter-spacing="-0.34">hkl planes of NiWO<tspan class="sub" dy="17.5">4</tspan></text>
<g id="legend">
<rect x="1379.8" y="679.2" width="915.4" height="284.4" fill="#fff" stroke="#000" stroke-width="2"/>
<rect x="1386.7" y="718.7" width="142.4" height="6.5" fill="#0000ff"/>
<rect x="1386.7" y="811.8" width="142.4" height="6.5" fill="#ff0000"/>
<rect x="1386.7" y="904.8" width="142.4" height="6.5" fill="#000"/>
<text x="1542" y="744.3">ZnNiWO<tspan class="sub" dy="17">4</tspan></text>
<text x="1542" y="836.8">ZnWO<tspan class="sub" dy="17">4</tspan><tspan dy="-17" letter-spacing="-0.22"> JCPDS-96-591-0159</tspan></text>
<text x="1543" y="929">NiWO<tspan class="sub" dy="17">4</tspan><tspan dy="-17" letter-spacing="-0.39"> JCPDS-96-591-0278</tspan></text>
</g>
<text class="b" x="1253.3" y="1651" text-anchor="middle">2θ (Degree)</text>
<text class="b" style="letter-spacing:0" transform="translate(76.5,746) rotate(-90)" text-anchor="middle">Intensity (counts)</text>
</svg>
</body></html>
